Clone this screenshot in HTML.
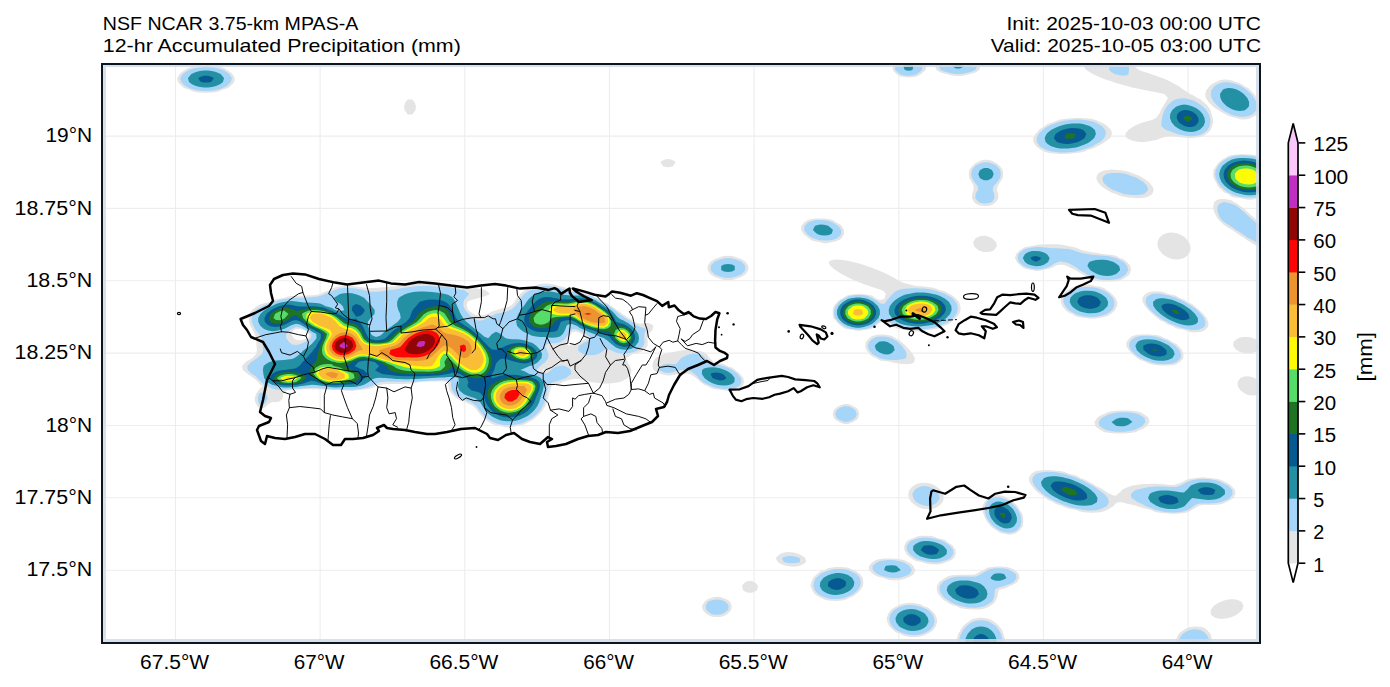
<!DOCTYPE html>
<html><head><meta charset="utf-8"><title>NSF NCAR 3.75-km MPAS-A 12-hr Accumulated Precipitation</title>
<style>html,body{margin:0;padding:0;background:#fff;overflow:hidden}svg{display:block}text{font-family:"Liberation Sans",sans-serif;font-size:19.0px;fill:#000}.tk{font-size:19.4px}</style>
</head><body>
<svg width="1390" height="687" viewBox="0 0 1390 687">
<rect width="1390" height="687" fill="#fff"/>
<defs><clipPath id="ax"><rect x="102.0" y="64.0" width="1158.0" height="579.0"/></clipPath></defs>
<g clip-path="url(#ax)">
<g stroke="#ededed" stroke-width="1.1" fill="none"><line x1="175.5" y1="64.0" x2="175.5" y2="643.0"/><line x1="320.1" y1="64.0" x2="320.1" y2="643.0"/><line x1="464.8" y1="64.0" x2="464.8" y2="643.0"/><line x1="609.5" y1="64.0" x2="609.5" y2="643.0"/><line x1="754.1" y1="64.0" x2="754.1" y2="643.0"/><line x1="898.8" y1="64.0" x2="898.8" y2="643.0"/><line x1="1043.4" y1="64.0" x2="1043.4" y2="643.0"/><line x1="1188.1" y1="64.0" x2="1188.1" y2="643.0"/><line x1="102.0" y1="136.1" x2="1260.0" y2="136.1"/><line x1="102.0" y1="208.4" x2="1260.0" y2="208.4"/><line x1="102.0" y1="280.8" x2="1260.0" y2="280.8"/><line x1="102.0" y1="353.1" x2="1260.0" y2="353.1"/><line x1="102.0" y1="425.5" x2="1260.0" y2="425.5"/><line x1="102.0" y1="497.8" x2="1260.0" y2="497.8"/><line x1="102.0" y1="570.2" x2="1260.0" y2="570.2"/></g>
<g stroke="none">
<path fill="#e4e4e4" d="M905.3,58.0 908.0,57.4 912.0,57.9 912.1,58.0 916.0,58.7 920.0,60.0 922.7,62.0 924.0,63.7 926.4,66.0 925.6,70.0 924.0,71.4 921.0,74.0 920.0,74.7 916.0,76.7 912.0,77.3 908.0,77.4 904.0,77.1 900.0,76.4 896.4,74.0 896.0,73.6 892.8,70.0 892.5,66.0 894.9,62.0 896.0,61.1 900.0,59.0 904.0,58.1ZM940.2,62.0 944.0,59.9 948.0,59.3 952.0,58.9 956.0,58.7 960.0,58.7 964.0,58.9 968.0,59.2 972.0,59.9 975.8,62.0 976.0,62.1 980.0,65.5 980.5,66.0 980.0,67.2 979.2,70.0 976.0,72.3 972.0,73.4 969.3,74.0 968.0,74.6 964.0,75.6 960.0,76.1 956.0,76.1 952.0,75.6 948.0,74.6 946.7,74.0 944.0,73.4 940.0,72.3 936.5,70.0 936.0,68.5 934.5,66.0 936.0,64.9 940.0,62.1ZM1103.9,62.0 1104.0,62.0 1108.0,60.5 1112.0,59.2 1116.0,58.4 1120.0,58.2 1124.0,58.6 1128.0,59.8 1131.1,62.0 1132.0,63.2 1134.7,66.0 1136.0,67.8 1139.3,70.0 1140.0,70.4 1144.0,71.8 1148.0,73.0 1150.9,74.0 1152.0,74.4 1156.0,75.7 1160.0,77.2 1162.2,78.0 1164.0,78.8 1168.0,80.5 1171.4,82.0 1172.0,82.4 1176.0,84.7 1178.5,86.0 1180.0,87.3 1183.9,90.0 1184.0,90.1 1188.0,92.6 1189.9,94.0 1192.0,94.7 1196.0,97.0 1197.3,98.0 1200.0,99.1 1203.5,102.0 1204.0,102.3 1207.6,106.0 1208.0,106.6 1210.4,110.0 1211.6,114.0 1212.0,116.1 1212.7,118.0 1213.2,122.0 1212.1,126.0 1212.0,126.1 1210.6,130.0 1208.0,132.7 1206.2,134.0 1204.0,135.6 1200.0,137.0 1196.0,137.6 1192.0,137.9 1188.0,137.9 1184.0,137.6 1180.0,137.2 1176.0,136.8 1172.0,136.3 1168.0,136.3 1164.0,137.2 1161.5,138.0 1160.0,138.6 1156.0,139.9 1152.0,140.8 1148.0,141.5 1144.0,141.9 1140.0,142.0 1136.0,141.6 1132.0,140.6 1128.0,138.8 1126.7,138.0 1125.2,134.0 1128.0,130.4 1128.3,130.0 1132.0,127.5 1134.3,126.0 1136.0,125.2 1140.0,123.5 1144.0,122.1 1144.5,122.0 1148.0,121.0 1152.0,119.9 1156.0,118.1 1156.1,118.0 1159.0,114.0 1160.0,112.7 1160.9,110.0 1163.3,106.0 1164.0,104.8 1165.7,102.0 1168.0,98.0 1164.3,94.0 1164.0,93.9 1160.0,92.9 1156.0,92.2 1152.0,91.5 1148.0,90.8 1144.3,90.0 1144.0,89.9 1140.0,89.1 1136.0,88.3 1132.0,87.4 1128.0,86.3 1126.9,86.0 1124.0,85.2 1120.0,84.1 1116.0,83.0 1113.1,82.0 1112.0,81.6 1108.0,80.3 1104.0,78.9 1101.8,78.0 1100.0,77.2 1096.0,75.5 1092.7,74.0 1092.0,73.5 1088.0,71.0 1086.1,70.0 1084.0,66.6 1083.5,66.0 1084.0,65.6 1088.0,63.9 1092.0,63.3 1096.0,63.1 1100.0,62.8ZM202.8,66.0 204.0,65.8 208.0,65.8 209.2,66.0 212.0,66.1 216.0,66.5 220.0,67.1 224.0,68.1 226.9,70.0 228.0,70.6 232.0,73.6 232.4,74.0 234.8,78.0 234.2,82.0 232.0,84.4 230.4,86.0 228.0,87.9 224.0,89.3 221.6,90.0 220.0,90.9 216.0,92.2 212.0,92.6 208.0,92.8 204.0,92.8 200.0,92.6 196.0,92.2 192.0,90.9 190.4,90.0 188.0,89.3 184.0,87.9 181.6,86.0 180.0,84.4 177.8,82.0 177.2,78.0 179.6,74.0 180.0,73.6 184.0,70.6 185.1,70.0 188.0,68.1 192.0,67.1 196.0,66.5 200.0,66.1ZM1215.8,82.0 1216.0,81.9 1220.0,80.2 1224.0,79.6 1228.0,79.7 1232.0,80.4 1235.6,82.0 1236.0,82.1 1240.0,83.2 1244.0,85.8 1244.3,86.0 1248.0,88.0 1250.2,90.0 1252.0,91.7 1254.2,94.0 1256.0,96.9 1256.9,98.0 1258.9,102.0 1259.5,106.0 1259.3,110.0 1257.3,114.0 1256.0,115.3 1252.0,117.6 1250.7,118.0 1248.0,119.1 1244.0,119.5 1240.0,119.2 1236.3,118.0 1236.0,117.9 1232.0,117.1 1228.0,115.8 1225.2,114.0 1224.0,113.4 1220.0,111.3 1218.0,110.0 1216.0,108.7 1212.4,106.0 1212.0,105.5 1208.4,102.0 1208.0,101.1 1205.8,98.0 1205.2,94.0 1206.4,90.0 1208.0,88.3 1209.5,86.0 1212.0,84.0ZM405.5,102.0 408.0,99.5 412.0,99.5 414.5,102.0 415.9,106.0 415.5,110.0 412.7,114.0 412.0,114.6 408.0,114.6 407.3,114.0 404.5,110.0 404.1,106.0ZM1054.0,122.0 1056.0,120.9 1060.0,119.6 1064.0,119.0 1068.0,118.6 1072.0,118.3 1076.0,118.1 1080.0,118.1 1084.0,118.3 1088.0,118.6 1092.0,119.1 1096.0,120.0 1099.9,122.0 1100.0,122.1 1104.0,123.8 1107.1,126.0 1108.0,127.1 1111.1,130.0 1112.0,134.0 1110.2,138.0 1108.0,139.5 1104.8,142.0 1104.0,142.5 1100.0,145.0 1097.7,146.0 1096.0,147.0 1092.0,148.8 1088.0,149.8 1087.3,150.0 1084.0,151.7 1080.0,152.6 1076.0,153.1 1072.0,153.5 1068.0,153.8 1064.0,153.9 1060.0,153.9 1056.0,153.7 1052.0,153.3 1048.0,152.8 1044.0,151.6 1041.4,150.0 1040.0,149.3 1036.0,146.0 1036.0,146.0 1033.4,142.0 1033.3,138.0 1035.4,134.0 1036.0,133.4 1039.0,130.0 1040.0,129.1 1044.0,126.5 1044.8,126.0 1048.0,123.8 1052.0,122.6ZM1225.2,158.0 1228.0,156.0 1232.0,155.1 1236.0,154.6 1240.0,154.3 1244.0,154.2 1248.0,154.4 1252.0,154.7 1256.0,155.2 1260.0,156.3 1262.3,158.0 1264.0,158.7 1268.0,160.3 1270.0,162.0 1272.0,163.4 1274.7,166.0 1276.0,167.6 1278.2,170.0 1279.5,174.0 1280.0,177.5 1280.2,178.0 1280.0,179.6 1279.9,182.0 1278.9,186.0 1276.0,189.5 1275.6,190.0 1272.0,193.2 1270.7,194.0 1268.0,196.2 1264.0,197.2 1260.0,197.8 1258.7,198.0 1256.0,199.1 1252.0,199.7 1248.0,199.7 1244.0,199.1 1240.6,198.0 1240.0,197.9 1236.0,197.5 1232.0,196.9 1228.2,194.0 1228.0,193.9 1224.0,192.2 1221.9,190.0 1220.0,188.4 1217.8,186.0 1216.0,182.1 1215.9,182.0 1213.6,178.0 1213.2,174.0 1213.6,170.0 1216.0,166.3 1216.1,166.0 1219.2,162.0 1220.0,161.3 1224.0,158.6ZM660.3,162.0 664.0,159.7 668.0,159.1 672.0,159.7 675.7,162.0 673.2,166.0 672.0,166.6 668.0,167.2 664.0,166.6 662.8,166.0ZM978.0,162.0 980.0,160.8 984.0,159.8 988.0,159.8 992.0,160.8 994.0,162.0 996.0,162.8 999.7,166.0 1000.0,166.3 1002.7,170.0 1003.2,174.0 1002.8,178.0 1000.3,182.0 1000.0,182.4 997.7,186.0 996.9,190.0 998.2,194.0 998.4,198.0 996.0,201.9 995.9,202.0 992.0,204.9 988.0,205.9 985.7,206.0 984.0,206.2 983.4,206.0 980.0,205.5 976.0,203.8 973.9,202.0 972.0,198.0 972.0,198.0 972.0,197.8 972.2,194.0 973.6,190.0 973.6,186.0 972.0,182.8 971.5,182.0 969.2,178.0 968.8,174.0 969.3,170.0 972.0,166.3 972.3,166.0 976.0,162.8ZM1107.9,170.0 1108.0,170.0 1112.0,169.6 1116.0,169.9 1116.8,170.0 1120.0,170.3 1124.0,170.8 1128.0,171.5 1132.0,172.9 1134.2,174.0 1136.0,174.6 1140.0,176.2 1142.9,178.0 1144.0,178.6 1148.0,181.5 1148.7,182.0 1152.0,185.8 1152.2,186.0 1153.8,190.0 1152.2,194.0 1152.0,194.2 1148.0,196.7 1144.0,197.7 1141.0,198.0 1140.0,198.1 1136.0,198.2 1134.7,198.0 1132.0,197.8 1128.0,197.4 1124.0,196.8 1120.0,195.8 1116.0,194.0 1116.0,194.0 1112.0,192.7 1108.0,190.6 1107.1,190.0 1104.0,188.2 1101.2,186.0 1100.0,184.6 1097.6,182.0 1096.3,178.0 1097.7,174.0 1100.0,172.3 1104.0,170.6ZM1214.4,202.0 1216.0,200.5 1220.0,199.1 1224.0,199.0 1228.0,199.4 1232.0,200.6 1233.7,202.0 1236.0,202.9 1240.0,205.8 1240.2,206.0 1244.0,208.8 1245.3,210.0 1248.0,212.4 1249.8,214.0 1252.0,215.9 1254.3,218.0 1256.0,219.4 1258.7,222.0 1260.0,223.2 1262.9,226.0 1264.0,227.3 1266.6,230.0 1268.0,231.9 1269.8,234.0 1272.0,237.9 1272.1,238.0 1274.1,242.0 1274.3,246.0 1272.0,248.4 1268.0,249.0 1264.0,248.4 1260.0,247.0 1258.3,246.0 1256.0,245.2 1252.0,243.2 1250.4,242.0 1248.0,240.8 1244.2,238.0 1244.0,237.8 1240.0,235.5 1238.2,234.0 1236.0,232.7 1232.5,230.0 1232.0,229.7 1228.0,227.7 1225.8,226.0 1224.0,224.9 1220.7,222.0 1220.0,221.3 1217.1,218.0 1216.0,215.5 1215.0,214.0 1213.6,210.0 1213.2,206.0ZM804.8,222.0 808.0,219.8 812.0,218.9 816.0,218.5 820.0,218.4 824.0,218.6 828.0,219.0 832.0,219.8 835.5,222.0 836.0,222.3 840.0,224.5 841.7,226.0 844.0,230.0 844.0,231.2 844.2,234.0 844.0,234.3 841.7,238.0 840.0,239.5 836.0,241.2 832.2,242.0 832.0,242.1 828.0,243.1 824.0,243.2 820.0,242.3 819.3,242.0 816.0,241.5 812.0,240.6 808.4,238.0 808.0,237.7 804.0,234.5 803.5,234.0 801.1,230.0 801.3,226.0 804.0,222.8ZM1163.9,234.0 1164.0,234.0 1168.0,232.7 1172.0,232.4 1176.0,233.0 1178.8,234.0 1180.0,234.4 1184.0,236.8 1185.5,238.0 1188.0,240.9 1188.8,242.0 1190.4,246.0 1190.5,250.0 1188.8,254.0 1188.0,255.0 1184.1,258.0 1184.0,258.0 1180.0,259.3 1176.0,259.6 1172.0,259.0 1169.2,258.0 1168.0,257.6 1164.0,255.2 1162.5,254.0 1160.0,251.1 1159.2,250.0 1157.6,246.0 1157.5,242.0 1159.2,238.0 1160.0,237.0ZM975.8,238.0 976.0,237.9 980.0,236.2 984.0,235.8 988.0,236.4 991.7,238.0 992.0,238.2 996.0,241.9 996.1,242.0 996.9,246.0 996.0,247.6 994.1,250.0 992.0,251.2 988.0,252.1 984.0,252.0 980.0,250.9 978.4,250.0 976.0,248.2 974.0,246.0 973.2,242.0ZM1032.3,246.0 1036.0,245.0 1040.0,244.6 1044.0,244.4 1048.0,244.3 1052.0,244.2 1056.0,244.2 1060.0,244.4 1064.0,245.0 1067.9,246.0 1068.0,246.0 1072.0,246.8 1076.0,247.8 1080.0,249.3 1081.4,250.0 1084.0,250.7 1088.0,251.4 1092.0,252.2 1096.0,252.8 1100.0,253.5 1102.2,254.0 1104.0,254.2 1108.0,254.6 1112.0,255.1 1116.0,255.8 1119.8,258.0 1120.0,258.1 1124.0,259.6 1127.0,262.0 1128.0,263.2 1130.4,266.0 1131.1,270.0 1129.7,274.0 1128.0,275.7 1124.5,278.0 1124.0,278.4 1120.0,280.5 1116.0,281.1 1112.0,281.5 1108.0,281.6 1104.0,281.6 1100.0,281.3 1096.0,280.9 1092.0,279.6 1089.7,278.0 1088.0,277.3 1084.0,275.6 1081.8,274.0 1080.0,273.0 1076.0,270.4 1075.4,270.0 1072.0,268.5 1068.0,266.4 1067.0,266.0 1064.0,265.1 1060.0,264.7 1056.0,265.4 1054.9,266.0 1052.0,267.7 1048.0,269.1 1044.0,269.8 1042.6,270.0 1040.0,270.8 1036.0,271.0 1032.4,270.0 1032.0,270.0 1028.0,269.3 1024.0,268.3 1021.0,266.0 1020.0,265.2 1016.7,262.0 1016.0,259.8 1014.9,258.0 1016.0,254.6 1016.1,254.0 1020.0,250.1 1020.2,250.0 1024.0,247.4 1028.0,246.6 1032.0,246.0ZM718.0,258.0 720.0,257.0 724.0,256.0 728.0,255.7 732.0,256.0 736.0,257.0 738.1,258.0 740.0,258.6 744.0,260.4 745.9,262.0 748.0,265.4 748.4,266.0 748.4,270.0 748.0,270.5 745.9,274.0 744.0,275.6 740.0,277.4 738.0,278.0 736.0,279.0 732.0,280.0 728.0,280.3 724.0,280.0 720.0,279.0 718.0,278.0 716.0,277.4 712.0,275.6 710.1,274.0 708.0,270.5 707.6,270.0 707.6,266.0 708.0,265.5 710.1,262.0 712.0,260.4 716.0,258.6ZM828.5,262.0 832.0,260.0 836.0,259.6 840.0,259.7 844.0,260.2 848.0,260.8 852.0,261.7 853.0,262.0 856.0,262.8 860.0,263.8 864.0,265.1 866.6,266.0 868.0,266.5 872.0,267.8 876.0,269.4 877.5,270.0 880.0,271.0 884.0,272.8 886.6,274.0 888.0,274.7 892.0,276.7 894.5,278.0 896.0,278.9 900.0,281.2 901.6,282.0 904.0,283.0 908.0,284.1 912.0,285.0 916.0,285.9 916.5,286.0 920.0,286.3 924.0,286.6 928.0,287.0 932.0,287.4 936.0,288.4 939.3,290.0 940.0,290.2 944.0,291.1 948.0,292.9 949.6,294.0 952.0,295.2 955.4,298.0 956.0,298.7 959.0,302.0 960.0,305.2 960.4,306.0 960.7,310.0 960.0,311.4 959.3,314.0 956.0,318.0 956.0,318.0 952.0,321.4 951.2,322.0 948.0,324.4 944.0,325.7 943.2,326.0 940.0,328.0 936.0,328.9 932.0,329.5 928.0,329.9 927.3,330.0 924.0,330.9 920.0,331.4 916.0,331.5 912.0,331.2 908.0,330.3 907.0,330.0 904.0,329.7 900.0,329.1 896.0,328.2 892.7,326.0 892.0,325.7 888.0,323.8 885.4,322.0 884.0,321.2 881.7,322.0 880.0,322.8 876.0,325.4 875.1,326.0 872.0,328.5 868.0,329.4 864.0,329.9 862.8,330.0 860.0,330.9 856.0,330.7 854.1,330.0 852.0,329.8 848.0,329.3 844.0,328.3 841.3,326.0 840.0,325.2 836.7,322.0 836.0,321.1 833.4,318.0 832.7,314.0 832.8,310.0 833.8,306.0 836.0,303.5 837.3,302.0 840.0,299.4 843.1,298.0 844.0,297.2 848.0,295.1 852.0,294.5 856.0,294.2 860.0,294.1 864.0,294.3 868.0,294.7 872.0,295.5 875.1,298.0 876.0,298.5 880.0,300.1 884.0,299.0 884.7,298.0 885.8,294.0 884.0,291.6 881.3,290.0 880.0,289.5 876.0,288.3 872.0,287.0 869.3,286.0 868.0,285.6 864.0,284.2 860.0,282.6 858.5,282.0 856.0,281.0 852.0,279.2 849.4,278.0 848.0,277.3 844.0,275.3 841.6,274.0 840.0,273.0 836.0,270.5 835.2,270.0 832.0,267.2 830.4,266.0ZM341.9,286.0 344.0,285.5 348.0,285.4 352.0,285.9 352.5,286.0 356.0,286.4 360.0,286.9 364.0,287.4 368.0,288.0 372.0,288.0 376.0,287.8 380.0,287.4 384.0,287.2 388.0,286.9 392.0,286.6 396.0,286.3 398.6,286.0 400.0,285.8 404.0,285.1 408.0,284.6 412.0,284.2 416.0,284.0 420.0,283.8 424.0,283.8 428.0,283.8 432.0,283.9 436.0,283.9 440.0,284.0 444.0,284.1 448.0,284.3 452.0,284.7 456.0,285.3 460.0,286.0 460.1,286.0 464.0,286.5 468.0,287.0 472.0,287.6 476.0,288.2 480.0,288.9 484.0,289.7 485.2,290.0 488.0,292.2 490.2,294.0 488.0,294.9 484.0,296.4 480.0,297.6 478.9,298.0 476.0,298.7 472.0,299.7 468.0,301.4 467.4,302.0 466.6,306.0 468.0,309.5 468.4,310.0 472.0,313.1 473.6,314.0 476.0,315.0 480.0,315.7 484.0,315.1 487.3,314.0 488.0,313.7 492.0,311.6 496.0,310.3 497.2,310.0 500.0,308.9 504.0,308.0 508.0,307.0 510.3,306.0 512.0,304.7 514.4,302.0 516.0,299.6 516.7,298.0 520.0,294.0 520.0,294.0 524.0,290.8 525.5,290.0 528.0,288.4 532.0,286.8 534.8,286.0 536.0,285.4 540.0,284.1 544.0,283.6 548.0,283.6 552.0,284.0 556.0,285.0 558.5,286.0 560.0,286.3 564.0,287.2 568.0,288.2 571.5,290.0 572.0,290.2 576.0,290.9 580.0,291.4 584.0,292.5 586.2,294.0 588.0,294.4 592.0,295.2 596.0,297.8 596.2,298.0 600.0,299.1 603.8,302.0 604.0,302.1 608.0,303.4 611.2,306.0 612.0,306.5 616.0,309.3 616.8,310.0 620.0,312.1 622.3,314.0 624.0,315.1 628.0,318.0 628.1,318.0 632.0,319.7 635.0,322.0 636.0,322.7 640.0,323.7 644.0,323.3 648.0,323.0 652.0,324.5 653.5,326.0 652.4,330.0 652.0,330.4 648.0,333.9 647.9,334.0 647.3,338.0 647.7,342.0 647.5,346.0 644.0,350.0 644.0,350.0 640.0,352.2 636.0,353.3 632.7,354.0 632.0,354.5 628.0,357.2 625.8,358.0 627.5,362.0 628.0,362.7 629.9,366.0 631.4,370.0 630.9,374.0 628.1,378.0 628.0,378.1 624.0,380.3 620.2,382.0 620.0,382.1 616.0,382.8 612.0,383.3 608.0,383.5 604.0,383.5 600.0,383.2 596.0,382.8 592.0,382.3 590.7,382.0 588.0,381.3 584.0,380.2 580.0,379.3 576.0,378.9 572.0,379.3 568.0,380.4 564.0,381.5 562.8,382.0 560.0,383.4 556.0,384.6 552.0,385.8 551.8,386.0 550.2,390.0 549.1,394.0 548.0,398.0 548.0,398.1 547.2,402.0 545.7,406.0 544.0,408.3 543.1,410.0 540.0,413.4 539.5,414.0 536.0,417.3 535.1,418.0 532.0,420.6 528.6,422.0 528.0,422.4 524.0,424.6 520.0,425.5 516.8,426.0 516.0,426.3 512.0,427.3 508.0,427.5 504.0,427.1 500.4,426.0 500.0,425.9 496.0,425.2 492.0,424.0 489.1,422.0 488.0,421.4 484.0,418.4 483.6,418.0 480.0,414.2 479.8,414.0 476.7,410.0 476.0,409.1 473.1,406.0 472.0,405.2 468.0,403.5 465.4,402.0 464.0,401.6 460.0,400.5 456.4,398.0 456.0,397.7 452.0,394.3 451.7,394.0 449.0,390.0 448.4,386.0 448.0,383.3 447.6,382.0 444.0,381.4 440.0,381.3 436.0,381.4 432.0,381.5 428.0,381.6 424.0,381.8 420.0,382.0 419.3,382.0 416.0,382.8 412.0,383.4 408.0,383.8 404.0,384.0 400.0,384.1 396.0,384.1 392.0,384.0 388.0,384.0 384.0,384.3 380.0,385.0 376.2,386.0 376.0,386.1 372.0,388.2 368.0,389.0 364.0,389.5 360.0,389.9 358.8,390.0 356.0,390.6 352.0,390.9 348.0,390.8 344.0,390.5 340.0,390.1 339.4,390.0 336.0,389.9 332.0,389.9 328.0,389.8 324.0,389.6 320.0,389.4 316.0,389.2 312.0,389.2 308.0,389.2 304.0,389.3 300.0,389.5 296.0,389.6 292.0,389.8 288.0,390.0 287.7,390.0 284.0,392.9 283.0,394.0 282.8,398.0 280.0,401.3 277.3,402.0 276.0,402.3 272.9,402.0 272.0,401.9 271.9,402.0 268.0,404.3 266.5,406.0 264.0,408.1 260.0,408.6 257.2,406.0 256.0,403.6 255.1,402.0 254.7,398.0 256.0,394.1 256.0,394.0 258.7,390.0 260.0,388.3 262.5,386.0 260.0,384.4 258.1,382.0 256.0,380.0 253.6,378.0 252.0,376.9 248.0,374.2 247.7,374.0 244.0,371.0 242.8,370.0 242.0,366.0 244.0,363.9 245.8,362.0 248.0,360.5 252.0,358.2 252.3,358.0 256.0,354.3 256.3,354.0 256.9,350.0 256.5,346.0 256.4,342.0 256.2,338.0 256.0,337.5 254.8,334.0 252.7,330.0 252.0,328.6 250.3,326.0 249.0,322.0 248.7,318.0 249.3,314.0 252.0,310.1 252.1,310.0 256.0,306.7 257.5,306.0 260.0,304.6 264.0,303.3 268.0,302.5 269.8,302.0 272.0,300.8 276.0,299.3 280.0,298.6 283.9,298.0 284.0,297.9 288.0,296.4 292.0,295.9 296.0,295.8 300.0,295.8 304.0,295.8 308.0,295.6 312.0,295.3 316.0,294.9 320.0,294.1 320.2,294.0 324.0,291.9 328.0,290.7 329.8,290.0 332.0,288.5 336.0,287.0 340.0,286.2ZM544.0,368.3 542.8,370.0 544.0,370.2 544.5,370.0ZM548.0,365.9 547.4,366.0 548.0,366.1 548.1,366.0ZM556.0,349.9 555.8,350.0 556.0,350.2 556.2,350.0ZM572.0,332.5 571.0,334.0 568.4,338.0 568.0,339.0 566.5,342.0 568.0,345.6 572.0,345.0 576.0,343.5 579.3,342.0 580.0,341.7 584.0,339.5 587.2,338.0 584.0,335.4 582.7,334.0 580.0,332.9 576.0,331.5ZM296.0,328.9 293.6,330.0 292.0,333.0 291.4,334.0 292.0,335.5 293.6,338.0 296.0,339.8 300.0,340.6 304.0,339.6 308.0,338.1 308.2,338.0 309.2,334.0 308.0,333.3 304.0,330.0 304.0,330.0 300.0,328.9ZM1080.0,286.0 1084.0,285.0 1088.0,284.8 1092.0,285.1 1094.5,286.0 1096.0,286.2 1100.0,286.8 1104.0,288.0 1106.6,290.0 1108.0,290.8 1112.0,294.0 1112.0,294.0 1115.5,298.0 1116.0,299.3 1117.4,302.0 1117.2,306.0 1116.0,307.9 1115.1,310.0 1112.0,312.9 1110.4,314.0 1108.0,315.7 1104.0,317.0 1100.0,317.7 1097.3,318.0 1096.0,318.4 1092.0,318.8 1088.0,318.5 1086.2,318.0 1084.0,317.8 1080.0,317.2 1076.0,316.4 1072.1,314.0 1072.0,314.0 1068.0,312.2 1065.5,310.0 1064.0,308.2 1062.1,306.0 1060.8,302.0 1060.9,298.0 1062.9,294.0 1064.0,292.9 1068.0,290.0 1068.0,290.0 1072.0,287.4 1076.0,286.6 1080.0,286.0ZM1145.5,294.0 1148.0,292.5 1152.0,291.5 1156.0,291.4 1160.0,291.6 1164.0,292.2 1167.9,294.0 1168.0,294.0 1172.0,294.8 1176.0,295.7 1179.3,298.0 1180.0,298.3 1184.0,299.5 1187.4,302.0 1188.0,302.3 1192.0,304.1 1194.3,306.0 1196.0,307.2 1199.2,310.0 1200.0,310.8 1203.3,314.0 1204.0,314.9 1206.7,318.0 1208.0,321.8 1208.2,322.0 1208.5,326.0 1208.0,326.8 1205.1,330.0 1204.0,330.7 1200.0,332.0 1196.0,332.3 1192.0,332.2 1188.0,331.4 1184.9,330.0 1184.0,329.8 1180.0,329.1 1176.0,328.2 1172.7,326.0 1172.0,325.7 1168.0,324.6 1164.4,322.0 1164.0,321.8 1160.0,320.2 1157.4,318.0 1156.0,317.0 1152.5,314.0 1152.0,313.6 1148.2,310.0 1148.0,309.7 1144.8,306.0 1144.0,304.0 1142.6,302.0 1142.3,298.0 1144.0,295.6ZM869.5,338.0 872.0,336.1 876.0,335.0 880.0,334.6 884.0,334.6 888.0,335.0 892.0,335.9 895.2,338.0 896.0,338.4 900.0,340.7 901.6,342.0 904.0,344.2 906.0,346.0 908.0,348.5 909.5,350.0 912.0,353.3 912.7,354.0 914.8,358.0 914.3,362.0 912.0,363.4 908.0,364.2 904.0,364.1 900.0,363.7 896.0,363.1 892.0,362.3 891.1,362.0 888.0,361.6 884.0,361.1 880.0,360.4 876.0,358.1 875.9,358.0 872.0,356.3 869.4,354.0 868.0,352.1 866.2,350.0 865.2,346.0 865.9,342.0 868.0,339.5ZM1129.8,338.0 1132.0,336.3 1136.0,335.1 1140.0,334.5 1144.0,334.4 1148.0,334.4 1152.0,334.7 1156.0,335.1 1160.0,335.8 1163.7,338.0 1164.0,338.1 1168.0,339.2 1172.0,341.7 1172.3,342.0 1176.0,343.8 1178.4,346.0 1180.0,347.8 1182.0,350.0 1183.4,354.0 1183.3,358.0 1180.0,361.9 1179.9,362.0 1176.0,364.5 1172.0,365.3 1168.0,365.6 1164.0,365.6 1160.0,365.5 1156.0,365.1 1152.0,364.6 1148.0,363.3 1146.0,362.0 1144.0,361.3 1140.0,360.1 1137.3,358.0 1136.0,357.1 1132.2,354.0 1132.0,353.8 1128.5,350.0 1128.0,348.9 1126.2,346.0 1126.5,342.0 1128.0,340.1ZM1238.9,338.0 1240.0,337.6 1244.0,336.9 1248.0,337.0 1252.0,337.8 1252.6,338.0 1256.0,339.5 1259.4,342.0 1260.0,343.5 1261.0,346.0 1260.0,348.2 1258.9,350.0 1256.0,351.8 1252.0,353.1 1248.0,353.4 1244.0,353.1 1240.0,351.9 1236.6,350.0 1236.0,349.4 1233.2,346.0 1233.5,342.0 1236.0,339.6ZM685.8,350.0 688.0,349.9 689.9,350.0 692.0,350.1 696.0,350.4 700.0,350.9 704.0,352.2 706.6,354.0 708.0,355.8 709.5,358.0 712.0,360.6 713.7,362.0 716.0,362.6 720.0,363.2 724.0,364.1 727.0,366.0 728.0,366.4 732.0,367.6 735.2,370.0 736.0,370.6 740.0,373.9 740.1,374.0 743.3,378.0 744.0,382.0 742.6,386.0 740.0,388.2 736.0,389.5 733.1,390.0 732.0,390.4 728.0,390.9 724.0,390.5 722.4,390.0 720.0,389.7 716.0,389.2 712.0,388.5 708.0,386.3 707.7,386.0 704.0,384.7 700.4,382.0 700.0,381.6 696.0,378.0 696.0,378.0 692.0,375.3 688.8,374.0 688.0,373.7 684.0,373.5 680.0,373.8 679.1,374.0 676.0,374.6 672.0,375.3 668.0,375.5 664.0,375.0 661.2,374.0 660.0,373.6 656.0,371.7 653.5,370.0 652.3,366.0 653.1,362.0 655.7,358.0 656.0,357.8 660.0,355.7 663.7,354.0 664.0,353.9 668.0,352.9 672.0,352.2 676.0,351.4 680.0,350.7 684.0,350.1ZM1240.8,378.0 1244.0,376.6 1248.0,376.2 1252.0,377.0 1254.2,378.0 1256.0,378.9 1259.9,382.0 1260.0,382.1 1262.3,386.0 1262.4,390.0 1260.0,393.3 1259.0,394.0 1256.0,395.3 1252.0,395.6 1248.0,394.9 1246.0,394.0 1244.0,393.1 1240.1,390.0 1240.0,389.8 1237.7,386.0 1237.6,382.0 1240.0,378.6ZM839.1,406.0 840.0,405.4 844.0,403.9 848.0,403.9 852.0,405.4 852.9,406.0 856.0,407.7 858.2,410.0 859.2,414.0 858.2,418.0 856.0,420.3 852.9,422.0 852.0,422.6 848.0,424.1 844.0,424.1 840.0,422.6 839.1,422.0 836.0,420.3 833.8,418.0 832.8,414.0 833.8,410.0 836.0,407.7ZM1104.3,414.0 1108.0,412.1 1112.0,411.3 1116.0,410.8 1120.0,410.5 1124.0,410.4 1128.0,410.5 1132.0,410.7 1136.0,411.2 1140.0,412.0 1143.6,414.0 1144.0,414.2 1148.0,417.3 1148.7,418.0 1149.6,422.0 1148.0,424.2 1146.9,426.0 1144.0,428.2 1140.0,429.9 1139.7,430.0 1136.0,431.9 1132.0,432.7 1128.0,433.2 1124.0,433.5 1120.0,433.6 1116.0,433.5 1112.0,433.3 1108.0,432.8 1104.0,432.0 1100.4,430.0 1100.0,429.8 1096.0,426.7 1095.3,426.0 1094.4,422.0 1096.0,419.8 1097.1,418.0 1100.0,415.8 1104.0,414.1ZM1031.1,474.0 1032.0,473.3 1036.0,471.1 1040.0,470.4 1044.0,470.1 1048.0,470.1 1052.0,470.3 1056.0,470.7 1060.0,471.1 1064.0,471.7 1068.0,473.2 1069.4,474.0 1072.0,474.6 1076.0,475.5 1080.0,477.8 1080.2,478.0 1084.0,479.2 1088.0,481.3 1089.0,482.0 1092.0,483.2 1096.0,486.0 1096.0,486.0 1100.0,487.8 1103.1,490.0 1104.0,490.6 1108.0,492.9 1110.5,494.0 1112.0,495.1 1116.0,495.8 1117.6,494.0 1120.0,492.2 1122.0,490.0 1124.0,488.8 1128.0,486.9 1131.0,486.0 1132.0,485.7 1136.0,484.9 1140.0,484.5 1144.0,484.1 1148.0,483.9 1152.0,483.8 1156.0,483.8 1160.0,484.0 1164.0,484.3 1168.0,484.7 1172.0,485.0 1176.0,484.5 1180.0,483.1 1182.6,482.0 1184.0,481.1 1188.0,479.3 1192.0,478.6 1196.0,478.1 1197.5,478.0 1200.0,477.5 1204.0,477.3 1208.0,477.9 1208.5,478.0 1212.0,478.3 1216.0,478.8 1220.0,479.5 1224.0,481.3 1225.0,482.0 1228.0,483.2 1231.5,486.0 1232.0,486.6 1235.0,490.0 1235.4,494.0 1233.3,498.0 1232.0,499.1 1228.0,501.3 1226.3,502.0 1224.0,503.3 1220.0,504.4 1216.0,504.7 1212.0,504.9 1208.0,505.0 1204.0,505.1 1200.0,505.4 1198.2,506.0 1196.0,507.4 1192.0,509.7 1191.5,510.0 1188.0,512.3 1184.0,513.0 1180.0,513.5 1176.0,513.7 1172.0,513.7 1168.0,513.5 1164.0,513.2 1160.0,512.8 1156.0,512.2 1152.0,510.4 1151.1,510.0 1148.0,509.3 1144.0,508.3 1140.0,506.9 1137.1,506.0 1136.0,505.7 1132.0,504.8 1128.0,503.9 1124.0,502.8 1120.0,502.0 1120.0,502.0 1120.0,502.0 1116.0,503.1 1113.6,506.0 1112.0,506.9 1108.0,509.4 1106.7,510.0 1104.0,511.2 1100.0,512.2 1096.0,512.6 1092.0,512.7 1088.0,512.5 1084.0,512.3 1080.0,511.5 1076.3,510.0 1076.0,509.9 1072.0,509.3 1068.0,508.5 1064.0,506.9 1062.6,506.0 1060.0,505.2 1056.0,504.0 1053.1,502.0 1052.0,501.4 1048.0,499.9 1045.6,498.0 1044.0,497.0 1040.1,494.0 1040.0,493.9 1036.0,490.8 1035.1,490.0 1032.0,486.1 1031.9,486.0 1029.3,482.0 1028.9,478.0ZM913.2,486.0 916.0,484.3 920.0,483.1 924.0,482.8 928.0,483.1 932.0,484.1 935.5,486.0 936.0,486.2 940.0,489.3 940.7,490.0 943.2,494.0 943.7,498.0 942.7,502.0 940.0,505.0 938.8,506.0 936.0,507.7 932.0,508.9 928.0,509.2 924.0,508.9 920.0,507.9 916.5,506.0 916.0,505.8 912.0,502.7 911.3,502.0 908.8,498.0 908.3,494.0 909.3,490.0 912.0,487.0ZM988.2,498.0 992.0,495.5 996.0,495.1 1000.0,495.3 1004.0,496.2 1006.6,498.0 1008.0,498.6 1012.0,500.9 1013.1,502.0 1016.0,504.6 1017.4,506.0 1019.7,510.0 1020.0,510.5 1022.4,514.0 1023.1,518.0 1023.3,522.0 1022.8,526.0 1020.0,530.0 1020.0,530.0 1016.0,533.2 1012.8,534.0 1012.0,534.4 1008.0,534.7 1006.1,534.0 1004.0,533.7 1000.0,532.8 996.0,530.0 996.0,530.0 992.0,527.5 990.5,526.0 988.0,522.8 987.3,522.0 984.9,518.0 984.0,514.9 983.4,514.0 982.3,510.0 982.6,506.0 984.0,503.3 984.5,502.0 988.0,498.2ZM913.8,538.0 916.0,536.9 920.0,535.8 924.0,535.7 928.0,535.7 932.0,536.1 936.0,537.6 936.8,538.0 940.0,538.7 944.0,539.6 947.4,542.0 948.0,542.4 952.0,545.1 953.0,546.0 955.5,550.0 955.8,554.0 954.0,558.0 952.0,559.7 948.0,561.5 946.2,562.0 944.0,563.1 940.0,564.2 936.0,564.4 932.0,564.3 928.0,564.0 924.0,563.0 921.7,562.0 920.0,561.7 916.0,561.0 912.0,559.0 911.1,558.0 908.0,555.8 906.5,554.0 904.4,550.0 904.2,546.0 906.1,542.0 908.0,540.3 912.0,538.6ZM780.0,554.0 780.0,554.0 784.0,552.6 788.0,552.1 792.0,552.3 796.0,553.1 798.3,554.0 800.0,554.6 804.0,556.9 805.3,558.0 806.0,562.0 804.0,563.8 800.0,565.7 798.3,566.0 796.0,566.5 792.0,566.7 788.0,566.1 787.8,566.0 784.0,565.2 780.0,563.6 777.7,562.0 776.0,558.4 775.8,558.0 776.0,557.8ZM872.8,562.0 876.0,560.0 880.0,559.1 884.0,558.6 888.0,558.4 892.0,558.5 896.0,558.8 900.0,559.2 904.0,559.9 907.8,562.0 908.0,562.1 912.0,564.4 913.4,566.0 915.2,570.0 913.8,574.0 912.0,575.5 908.0,577.5 906.5,578.0 904.0,579.1 900.0,580.0 896.0,580.3 892.0,580.2 888.0,579.7 884.0,578.3 883.4,578.0 880.0,577.2 876.0,576.0 873.0,574.0 872.0,573.2 868.9,570.0 868.9,566.0 872.0,562.6ZM824.8,570.0 828.0,568.3 832.0,567.4 836.0,567.1 840.0,567.1 844.0,567.3 848.0,567.7 852.0,569.4 853.1,570.0 856.0,571.0 859.8,574.0 860.0,574.2 862.9,578.0 863.3,582.0 862.9,586.0 860.5,590.0 860.0,590.6 856.3,594.0 856.0,594.3 852.0,596.9 848.8,598.0 848.0,598.5 844.0,600.2 840.0,600.7 836.0,600.9 832.0,600.8 828.0,600.5 824.0,599.5 821.4,598.0 820.0,597.4 816.0,595.1 814.8,594.0 812.0,590.0 812.0,589.8 810.5,586.0 811.2,582.0 812.0,580.8 813.1,578.0 816.0,575.0 817.1,574.0 820.0,571.6 824.0,570.3ZM983.5,570.0 984.0,569.7 988.0,567.6 992.0,567.0 996.0,566.6 1000.0,566.6 1004.0,566.8 1008.0,567.3 1012.0,568.5 1014.4,570.0 1016.0,571.0 1019.0,574.0 1019.6,578.0 1017.3,582.0 1016.0,583.1 1012.0,585.2 1009.6,586.0 1008.0,586.9 1004.0,588.4 1000.0,589.4 998.9,590.0 997.9,594.0 997.2,598.0 996.0,599.8 995.0,602.0 992.0,604.8 989.7,606.0 988.0,607.2 984.0,608.8 980.0,609.4 976.0,609.6 972.0,609.5 968.0,609.2 964.0,608.8 960.0,608.1 956.1,606.0 956.0,606.0 952.0,604.9 948.0,602.7 947.1,602.0 944.0,600.3 941.5,598.0 940.0,596.1 938.2,594.0 936.8,590.0 936.9,586.0 939.2,582.0 940.0,581.3 944.0,578.5 945.0,578.0 948.0,576.2 952.0,575.3 956.0,574.9 960.0,574.8 964.0,574.7 968.0,574.8 972.0,574.8 976.0,574.2 976.3,574.0 980.0,571.6ZM745.9,582.0 748.0,581.1 752.0,581.1 754.1,582.0 756.0,583.3 758.0,586.0 757.0,590.0 756.0,590.9 752.0,592.8 748.0,592.8 744.0,591.0 743.0,590.0 742.0,586.0 744.0,583.3ZM711.2,598.0 712.0,597.6 716.0,596.7 720.0,597.0 722.9,598.0 724.0,598.3 728.0,600.0 730.2,602.0 731.7,606.0 731.2,610.0 728.0,613.5 727.4,614.0 724.0,616.1 720.0,616.9 716.0,617.0 712.0,616.7 708.0,615.1 706.5,614.0 704.0,611.6 702.7,610.0 702.0,606.0 704.0,602.5 704.3,602.0 708.0,599.0ZM1219.9,602.0 1220.0,602.0 1224.0,600.4 1228.0,599.6 1232.0,599.3 1236.0,599.6 1240.0,600.9 1241.7,602.0 1243.6,606.0 1242.1,610.0 1240.0,612.1 1237.7,614.0 1236.0,615.1 1232.0,616.9 1228.1,618.0 1228.0,618.0 1224.0,618.7 1220.0,618.8 1216.0,618.1 1215.6,618.0 1212.0,615.7 1210.7,614.0 1210.8,610.0 1212.0,608.3 1213.7,606.0 1216.0,604.3ZM897.3,606.0 900.0,604.4 904.0,603.4 908.0,603.1 912.0,603.1 916.0,603.4 920.0,604.1 923.4,606.0 924.0,606.2 928.0,607.6 931.0,610.0 932.0,611.0 934.9,614.0 936.0,616.8 936.8,618.0 937.4,622.0 936.0,625.5 935.9,626.0 933.2,630.0 932.0,631.1 928.0,633.5 926.7,634.0 924.0,635.6 920.0,636.6 916.0,636.9 912.0,636.9 908.0,636.6 904.0,635.9 900.6,634.0 900.0,633.8 896.0,632.4 893.1,630.0 892.0,629.0 889.1,626.0 888.0,623.2 887.2,622.0 886.6,618.0 888.0,614.5 888.1,614.0 890.8,610.0 892.0,608.9 896.0,606.5ZM978.4,618.0 980.0,617.6 984.0,618.0 984.0,618.0 988.0,618.7 992.0,620.2 994.3,622.0 996.0,623.1 998.9,626.0 1000.0,627.5 1002.0,630.0 1003.5,634.0 1004.0,636.2 1004.7,638.0 1005.4,642.0 1005.2,646.0 1004.0,649.8 1004.0,650.0 1002.9,654.0 1000.2,658.0 1000.0,658.2 996.7,662.0 996.0,662.7 992.0,665.4 990.4,666.0 988.0,667.4 984.0,668.4 980.0,668.6 976.0,668.0 972.0,666.3 971.6,666.0 968.0,664.5 965.2,662.0 964.0,660.9 961.4,658.0 960.0,655.1 959.2,654.0 957.4,650.0 956.9,646.0 956.8,642.0 957.1,638.0 958.1,634.0 960.0,630.9 960.4,630.0 963.2,626.0 964.0,625.2 968.0,622.0 968.0,622.0 972.0,619.2 976.0,618.3ZM1183.7,630.0 1184.0,629.8 1188.0,627.6 1192.0,626.8 1196.0,626.5 1200.0,626.7 1204.0,627.7 1206.9,630.0 1208.0,630.9 1210.5,634.0 1211.7,638.0 1211.8,642.0 1210.7,646.0 1208.0,649.0 1206.8,650.0 1204.0,652.1 1200.0,653.3 1196.0,653.8 1192.0,653.8 1188.0,653.3 1184.0,652.1 1181.2,650.0 1180.0,648.9 1177.4,646.0 1176.3,642.0 1176.6,638.0 1178.7,634.0 1180.0,632.6Z"/>
<path fill="#a5d5f8" d="M898.4,62.0 900.0,61.0 904.0,59.8 908.0,59.3 912.0,59.6 916.0,60.5 919.0,62.0 920.0,62.9 922.6,66.0 922.0,70.0 920.0,71.8 917.1,74.0 916.0,74.6 912.0,75.6 908.0,75.8 904.0,75.4 900.0,74.2 899.7,74.0 896.0,70.8 895.3,70.0 895.0,66.0 896.0,64.6ZM944.6,62.0 948.0,61.0 952.0,60.4 956.0,60.1 960.0,60.1 964.0,60.4 968.0,61.0 971.4,62.0 972.0,62.3 976.0,65.1 977.0,66.0 976.0,68.7 975.4,70.0 972.0,71.4 968.0,72.6 964.0,73.5 960.0,73.9 956.0,73.9 952.0,73.5 948.0,72.6 944.0,71.4 940.5,70.0 940.0,69.0 938.9,66.0 940.0,65.1 944.0,62.3ZM1113.9,62.0 1116.0,61.3 1120.0,61.0 1124.0,61.4 1125.3,62.0 1128.0,64.8 1128.9,66.0 1129.0,70.0 1128.4,74.0 1128.0,74.7 1124.0,75.7 1120.0,75.3 1116.0,74.5 1114.7,74.0 1112.0,72.5 1109.2,70.0 1109.4,66.0 1112.0,63.8ZM189.3,70.0 192.0,68.9 196.0,68.0 200.0,67.4 204.0,67.2 208.0,67.2 212.0,67.4 216.0,68.0 220.0,68.9 222.7,70.0 224.0,70.6 228.0,73.0 229.3,74.0 231.9,78.0 230.8,82.0 228.0,84.9 226.7,86.0 224.0,87.4 220.0,88.9 216.2,90.0 216.0,90.1 212.0,90.8 208.0,91.1 204.0,91.1 200.0,90.8 196.0,90.1 195.8,90.0 192.0,88.9 188.0,87.4 185.3,86.0 184.0,84.9 181.2,82.0 180.1,78.0 182.7,74.0 184.0,73.0 188.0,70.6ZM1214.6,86.0 1216.0,85.0 1220.0,83.3 1224.0,82.2 1228.0,82.2 1232.0,82.9 1236.0,84.1 1240.0,85.5 1240.7,86.0 1244.0,88.0 1246.9,90.0 1248.0,91.0 1251.2,94.0 1252.0,95.1 1254.0,98.0 1256.0,101.6 1256.2,102.0 1256.8,106.0 1256.3,110.0 1256.0,110.4 1253.0,114.0 1252.0,114.8 1248.0,116.2 1244.0,116.8 1240.0,116.7 1236.0,116.0 1232.0,114.9 1230.1,114.0 1228.0,113.0 1224.0,110.9 1222.7,110.0 1220.0,107.9 1217.6,106.0 1216.0,104.2 1213.9,102.0 1212.0,98.7 1211.5,98.0 1210.8,94.0 1211.4,90.0 1212.0,89.2ZM1171.2,102.0 1172.0,101.2 1176.0,99.3 1180.0,98.4 1184.0,98.3 1188.0,99.0 1192.0,100.1 1196.0,101.7 1196.4,102.0 1200.0,104.2 1202.2,106.0 1204.0,107.5 1206.2,110.0 1208.0,112.7 1208.8,114.0 1210.1,118.0 1210.5,122.0 1209.7,126.0 1208.0,129.3 1207.5,130.0 1204.0,132.8 1201.8,134.0 1200.0,134.9 1196.0,135.8 1192.0,136.2 1188.0,136.1 1184.0,135.6 1180.0,134.8 1177.2,134.0 1176.0,133.6 1172.0,132.0 1168.0,130.6 1166.0,130.0 1164.0,128.5 1161.3,126.0 1161.4,122.0 1162.1,118.0 1163.0,114.0 1164.0,111.5 1164.6,110.0 1167.1,106.0 1168.0,104.9ZM1059.2,122.0 1060.0,121.7 1064.0,120.8 1068.0,120.2 1072.0,119.8 1076.0,119.6 1080.0,119.6 1084.0,119.9 1088.0,120.4 1092.0,121.3 1094.1,122.0 1096.0,122.8 1100.0,124.9 1101.9,126.0 1104.0,128.4 1105.3,130.0 1105.9,134.0 1104.3,138.0 1104.0,138.3 1100.0,142.0 1100.0,142.0 1096.0,144.1 1092.8,146.0 1092.0,146.5 1088.0,147.9 1084.0,149.3 1081.5,150.0 1080.0,150.5 1076.0,151.4 1072.0,151.9 1068.0,152.3 1064.0,152.4 1060.0,152.4 1056.0,152.1 1052.0,151.5 1048.0,150.6 1046.7,150.0 1044.0,148.7 1040.0,146.4 1039.5,146.0 1036.9,142.0 1036.7,138.0 1038.6,134.0 1040.0,132.5 1042.5,130.0 1044.0,128.8 1048.0,126.3 1048.5,126.0 1052.0,124.5 1056.0,123.1ZM1228.2,158.0 1232.0,156.5 1236.0,155.7 1240.0,155.3 1244.0,155.2 1248.0,155.4 1252.0,155.8 1256.0,156.7 1258.9,158.0 1260.0,158.3 1264.0,159.9 1267.3,162.0 1268.0,162.4 1272.0,165.4 1272.6,166.0 1275.9,170.0 1276.0,170.2 1277.9,174.0 1278.6,178.0 1278.3,182.0 1276.9,186.0 1276.0,187.1 1273.6,190.0 1272.0,191.4 1268.1,194.0 1268.0,194.0 1264.0,195.8 1260.0,196.8 1256.0,197.4 1252.0,197.7 1248.0,197.7 1244.0,197.4 1240.0,196.9 1236.0,196.0 1232.0,194.5 1231.4,194.0 1228.0,192.4 1224.7,190.0 1224.0,189.5 1220.3,186.0 1220.0,185.6 1217.5,182.0 1216.0,178.5 1215.7,178.0 1215.1,174.0 1215.7,170.0 1216.0,169.6 1217.9,166.0 1220.0,163.6 1221.6,162.0 1224.0,160.2 1228.0,158.1ZM975.1,166.0 976.0,165.3 980.0,163.4 984.0,162.2 988.0,162.2 992.0,163.4 996.0,165.3 996.9,166.0 1000.0,169.8 1000.1,170.0 1000.8,174.0 1000.2,178.0 1000.0,178.3 997.3,182.0 996.0,183.8 993.6,186.0 992.7,190.0 994.2,194.0 994.5,198.0 992.0,202.0 992.0,202.0 988.0,203.2 984.0,203.5 980.0,202.7 978.7,202.0 976.0,199.1 975.3,198.0 975.6,194.0 976.0,193.1 978.1,190.0 977.8,186.0 976.0,184.2 974.5,182.0 972.0,178.3 971.8,178.0 971.2,174.0 971.9,170.0 972.0,169.8ZM1106.3,174.0 1108.0,173.5 1112.0,173.0 1116.0,172.9 1120.0,173.1 1124.0,173.6 1125.7,174.0 1128.0,174.7 1132.0,176.2 1136.0,177.5 1136.9,178.0 1140.0,180.1 1143.6,182.0 1144.0,182.4 1147.0,186.0 1148.0,189.3 1148.2,190.0 1148.0,190.3 1144.2,194.0 1144.0,194.1 1140.0,194.8 1136.0,195.1 1132.0,195.0 1128.0,194.6 1124.0,194.1 1123.9,194.0 1120.0,192.4 1116.0,191.1 1113.0,190.0 1112.0,189.4 1108.0,186.8 1106.8,186.0 1104.0,183.0 1103.1,182.0 1102.4,178.0 1104.0,175.8ZM1217.6,206.0 1220.0,203.4 1224.0,202.1 1228.0,202.7 1232.0,204.0 1236.0,205.6 1236.6,206.0 1240.0,208.6 1241.7,210.0 1244.0,212.1 1246.1,214.0 1248.0,215.8 1250.6,218.0 1252.0,219.3 1255.2,222.0 1256.0,222.8 1259.4,226.0 1260.0,226.7 1262.8,230.0 1264.0,231.6 1265.7,234.0 1268.0,237.5 1268.3,238.0 1268.7,242.0 1268.0,243.0 1264.0,244.0 1260.0,243.3 1256.0,242.2 1255.6,242.0 1252.0,239.8 1248.0,238.1 1247.9,238.0 1244.0,235.1 1242.4,234.0 1240.0,232.2 1236.0,230.0 1236.0,230.0 1232.0,227.1 1230.2,226.0 1228.0,224.6 1224.0,222.1 1223.9,222.0 1220.0,218.0 1220.0,218.0 1218.3,214.0 1217.2,210.0ZM809.0,222.0 812.0,220.9 816.0,220.1 820.0,219.9 824.0,220.2 828.0,220.8 831.7,222.0 832.0,222.1 836.0,224.4 838.3,226.0 840.0,228.2 841.3,230.0 841.2,234.0 840.0,235.6 837.4,238.0 836.0,238.8 832.0,240.0 828.0,240.6 824.0,240.6 820.0,240.2 816.0,239.3 812.7,238.0 812.0,237.7 808.0,235.0 806.9,234.0 804.1,230.0 804.6,226.0 808.0,222.6ZM1023.4,250.0 1024.0,249.6 1028.0,248.2 1032.0,247.4 1036.0,247.1 1040.0,247.1 1044.0,247.4 1048.0,247.8 1052.0,248.2 1056.0,248.3 1060.0,248.4 1064.0,248.7 1068.0,249.1 1072.0,249.8 1072.8,250.0 1076.0,251.3 1080.0,252.6 1084.0,253.4 1087.3,254.0 1088.0,254.1 1092.0,254.8 1096.0,255.1 1100.0,255.4 1104.0,255.7 1108.0,256.1 1112.0,256.9 1115.8,258.0 1116.0,258.1 1120.0,260.0 1123.7,262.0 1124.0,262.3 1127.2,266.0 1128.0,269.0 1128.3,270.0 1128.0,270.5 1126.1,274.0 1124.0,275.7 1120.3,278.0 1120.0,278.2 1116.0,279.2 1112.0,279.8 1108.0,280.0 1104.0,279.9 1100.0,279.4 1096.0,278.5 1094.9,278.0 1092.0,276.9 1088.0,275.2 1086.0,274.0 1084.0,272.6 1080.0,270.3 1079.6,270.0 1076.0,267.2 1073.6,266.0 1072.0,264.9 1068.0,263.1 1064.0,262.1 1063.0,262.0 1060.0,261.3 1058.6,262.0 1056.0,262.7 1052.0,265.1 1050.7,266.0 1048.0,267.3 1044.0,268.5 1040.0,269.2 1036.0,269.3 1032.0,268.8 1028.0,267.9 1024.0,266.3 1023.6,266.0 1020.0,263.0 1019.0,262.0 1017.5,258.0 1018.5,254.0 1020.0,252.5ZM728.0,258.0 728.0,258.0 728.0,258.0 732.0,258.4 736.0,259.4 740.0,260.9 741.9,262.0 744.0,264.3 745.3,266.0 745.3,270.0 744.0,271.7 741.9,274.0 740.0,275.1 736.0,276.6 732.0,277.6 728.0,278.0 728.0,278.0 728.0,278.0 724.0,277.6 720.0,276.6 716.0,275.1 714.2,274.0 712.0,271.7 710.7,270.0 710.7,266.0 712.0,264.3 714.2,262.0 716.0,260.9 720.0,259.4 724.0,258.4ZM334.8,290.0 336.0,289.4 340.0,288.3 344.0,287.8 348.0,287.7 352.0,288.0 356.0,288.6 360.0,289.3 363.1,290.0 364.0,290.2 368.0,291.3 372.0,291.8 376.0,291.8 380.0,291.5 384.0,291.1 388.0,290.4 389.4,290.0 392.0,289.7 396.0,289.2 400.0,288.5 404.0,287.8 408.0,287.2 412.0,286.7 416.0,286.3 420.0,286.1 424.0,286.0 428.0,286.1 432.0,286.2 436.0,286.4 440.0,286.5 444.0,286.8 448.0,287.2 452.0,287.8 456.0,288.6 460.0,289.4 464.0,290.0 464.2,290.0 468.0,293.0 469.5,294.0 468.0,294.9 465.9,298.0 464.0,300.3 463.4,302.0 463.4,306.0 464.0,307.4 465.3,310.0 468.0,313.6 468.5,314.0 472.0,317.3 473.4,318.0 476.0,319.8 480.0,320.7 484.0,319.8 486.9,318.0 488.0,317.5 492.0,315.8 495.3,314.0 496.0,313.7 500.0,312.9 504.0,312.3 508.0,311.1 509.9,310.0 512.0,309.0 515.2,306.0 516.0,305.1 518.4,302.0 520.0,299.2 520.8,298.0 524.0,294.0 524.0,294.0 528.0,291.6 530.6,290.0 532.0,289.3 536.0,287.9 540.0,286.8 544.0,286.1 548.0,286.0 552.0,286.5 556.0,287.3 560.0,288.3 564.0,289.3 565.9,290.0 568.0,290.7 572.0,291.8 576.0,292.4 580.0,293.2 582.0,294.0 584.0,294.3 588.0,295.2 592.0,296.5 594.2,298.0 596.0,298.6 600.0,300.4 602.0,302.0 604.0,303.0 608.0,305.1 609.1,306.0 612.0,307.8 614.7,310.0 616.0,311.3 619.5,314.0 620.0,314.5 624.0,317.0 625.4,318.0 628.0,319.4 632.0,321.8 632.2,322.0 636.0,324.7 638.9,326.0 640.0,327.0 644.0,328.0 646.0,330.0 644.2,334.0 644.3,338.0 644.5,342.0 644.0,344.2 643.4,346.0 640.0,348.8 638.2,350.0 636.0,351.0 632.0,352.4 628.0,353.3 624.0,353.8 620.0,353.6 616.0,352.6 612.0,350.7 610.7,350.0 608.0,348.9 604.5,350.0 604.0,350.3 600.0,353.3 598.1,354.0 596.0,354.8 592.0,355.3 588.0,355.2 584.0,354.4 583.2,354.0 580.0,352.2 577.9,350.0 578.6,346.0 580.0,345.2 584.0,342.6 585.3,342.0 588.0,340.8 591.4,338.0 588.0,335.7 586.1,334.0 584.0,333.0 580.0,331.0 578.0,330.0 576.0,329.2 572.0,329.3 571.3,330.0 568.6,334.0 568.0,334.9 565.6,338.0 564.0,339.9 560.5,342.0 560.0,342.3 556.0,343.2 552.0,343.3 548.0,343.6 545.1,346.0 547.0,350.0 548.0,352.9 548.6,354.0 548.2,358.0 548.0,358.3 545.4,362.0 544.0,363.1 540.2,366.0 540.0,366.2 536.3,370.0 540.0,372.5 544.0,373.6 548.0,372.7 551.0,370.0 552.0,369.0 556.0,366.7 558.7,366.0 560.0,365.6 564.0,365.7 564.8,366.0 568.0,367.6 570.8,370.0 571.3,374.0 568.0,376.3 566.3,378.0 564.0,378.8 560.0,380.2 556.0,381.5 554.1,382.0 552.0,382.5 548.8,386.0 548.0,387.8 547.4,390.0 546.5,394.0 545.8,398.0 544.8,402.0 544.0,403.5 542.8,406.0 540.5,410.0 540.0,410.5 536.9,414.0 536.0,414.8 532.2,418.0 532.0,418.1 528.0,420.3 524.7,422.0 524.0,422.4 520.0,423.7 516.0,424.6 512.0,425.1 508.0,425.2 504.0,424.9 500.0,424.3 496.0,423.2 493.3,422.0 492.0,421.5 488.0,419.1 486.6,418.0 484.0,415.7 482.4,414.0 480.0,411.0 479.2,410.0 476.2,406.0 476.0,405.8 472.0,402.7 470.6,402.0 468.0,401.0 464.0,399.6 460.0,398.1 459.9,398.0 456.0,395.2 454.7,394.0 452.0,390.4 451.7,390.0 450.9,386.0 450.9,382.0 448.0,380.5 444.0,380.2 440.0,380.3 436.0,380.4 432.0,380.6 428.0,380.8 424.0,381.0 420.0,381.2 416.0,381.4 412.0,381.5 408.0,381.7 404.0,381.8 400.0,381.8 396.0,381.7 392.0,381.7 388.0,381.6 384.0,381.7 381.1,382.0 380.0,382.3 376.0,383.6 372.0,385.8 371.6,386.0 368.0,387.3 364.0,388.3 360.0,388.9 356.0,389.3 352.0,389.4 348.0,389.4 344.0,389.4 340.0,389.3 336.0,389.3 332.0,389.2 328.0,389.0 324.0,388.7 320.0,388.2 316.0,387.9 312.0,387.9 308.0,388.0 304.0,388.3 300.0,388.7 296.0,388.9 292.0,389.1 288.0,389.4 284.0,389.6 280.0,389.8 276.0,389.6 272.0,388.4 268.0,386.5 267.4,386.0 264.0,384.4 261.2,382.0 260.0,380.7 257.2,378.0 256.0,376.6 252.0,374.1 251.9,374.0 248.0,370.3 247.7,370.0 247.3,366.0 248.0,365.3 251.2,362.0 252.0,361.5 256.0,358.8 257.3,358.0 260.0,355.5 262.1,354.0 263.2,350.0 262.8,346.0 262.4,342.0 261.6,338.0 260.0,336.2 259.1,334.0 256.0,330.5 255.7,330.0 253.5,326.0 252.0,322.5 251.8,322.0 251.5,318.0 252.0,316.1 252.6,314.0 255.6,310.0 256.0,309.7 260.0,307.6 263.2,306.0 264.0,305.6 268.0,304.1 272.0,302.7 273.9,302.0 276.0,301.0 280.0,299.8 284.0,299.0 288.0,298.4 291.9,298.0 292.0,298.0 296.0,297.8 300.0,297.8 304.0,297.7 308.0,297.5 312.0,297.1 316.0,296.7 320.0,296.0 324.0,294.5 325.0,294.0 328.0,292.8 332.0,291.2ZM292.0,328.9 290.1,330.0 288.0,332.7 286.1,334.0 286.2,338.0 288.0,340.4 289.1,342.0 292.0,344.4 296.0,345.0 300.0,344.2 304.0,342.6 305.1,342.0 308.0,340.5 310.9,338.0 311.6,334.0 308.0,331.9 305.7,330.0 304.0,329.2 300.0,327.5 296.0,327.0ZM898.7,290.0 900.0,289.5 904.0,288.8 908.0,288.4 912.0,288.3 916.0,288.2 920.0,288.4 924.0,288.6 928.0,289.1 932.0,289.8 932.7,290.0 936.0,290.7 940.0,291.9 944.0,293.2 945.3,294.0 948.0,295.4 952.0,297.8 952.2,298.0 956.0,301.9 956.1,302.0 957.6,306.0 957.8,310.0 956.5,314.0 956.0,314.6 953.2,318.0 952.0,319.0 948.1,322.0 948.0,322.1 944.0,324.0 940.0,325.7 939.1,326.0 936.0,327.2 932.0,328.1 928.0,328.8 924.0,329.2 920.0,329.5 916.0,329.5 912.0,329.3 908.0,328.9 904.0,328.2 900.0,327.3 896.7,326.0 896.0,325.8 892.0,323.7 889.5,322.0 888.0,320.8 884.0,318.7 880.0,320.6 878.7,322.0 876.0,324.1 872.9,326.0 872.0,326.7 868.0,328.4 864.0,329.2 860.0,329.6 856.0,329.5 852.0,329.1 848.0,328.3 844.0,326.5 843.4,326.0 840.0,323.8 838.1,322.0 836.0,319.0 835.1,318.0 834.0,314.0 834.1,310.0 835.8,306.0 836.0,305.7 839.0,302.0 840.0,301.1 844.0,298.7 845.7,298.0 848.0,296.5 852.0,295.5 856.0,295.0 860.0,294.9 864.0,295.2 868.0,296.1 872.0,298.0 872.0,298.0 876.0,300.2 878.6,302.0 880.0,303.3 884.0,303.9 885.7,302.0 888.0,299.1 889.0,298.0 892.0,294.4 892.6,294.0 896.0,291.1ZM1071.5,290.0 1072.0,289.7 1076.0,288.3 1080.0,287.5 1084.0,287.0 1088.0,286.9 1092.0,287.2 1096.0,287.8 1100.0,288.9 1102.3,290.0 1104.0,290.7 1108.0,293.0 1109.2,294.0 1112.0,296.9 1113.0,298.0 1114.5,302.0 1114.2,306.0 1112.2,310.0 1112.0,310.2 1108.0,313.0 1106.2,314.0 1104.0,315.1 1100.0,316.1 1096.0,316.7 1092.0,317.0 1088.0,316.8 1084.0,316.4 1080.0,315.5 1076.0,314.3 1075.6,314.0 1072.0,312.1 1068.7,310.0 1068.0,309.3 1065.1,306.0 1064.0,303.5 1063.3,302.0 1063.5,298.0 1064.0,297.2 1066.1,294.0 1068.0,292.4ZM1151.7,294.0 1152.0,293.9 1156.0,293.5 1160.0,293.7 1161.2,294.0 1164.0,294.4 1168.0,295.3 1172.0,296.4 1176.0,297.8 1176.3,298.0 1180.0,299.6 1184.0,301.4 1184.8,302.0 1188.0,303.8 1191.5,306.0 1192.0,306.3 1196.0,309.2 1196.9,310.0 1200.0,313.0 1201.0,314.0 1204.0,317.8 1204.1,318.0 1205.5,322.0 1205.0,326.0 1204.0,327.1 1200.0,329.3 1196.3,330.0 1196.0,330.1 1194.5,330.0 1192.0,329.9 1188.0,329.3 1184.0,328.5 1180.0,327.5 1176.0,326.1 1175.8,326.0 1172.0,324.4 1168.0,322.7 1167.0,322.0 1164.0,320.4 1160.0,318.0 1160.0,318.0 1156.0,315.1 1154.7,314.0 1152.0,311.5 1150.5,310.0 1148.0,306.9 1147.2,306.0 1145.7,302.0 1146.0,298.0 1148.0,296.0ZM873.9,338.0 876.0,337.1 880.0,336.4 884.0,336.4 888.0,337.0 890.7,338.0 892.0,338.5 896.0,340.7 897.9,342.0 900.0,344.0 902.1,346.0 904.0,348.8 905.0,350.0 906.7,354.0 906.0,358.0 904.0,358.9 900.0,359.6 896.0,359.9 892.0,359.9 888.0,359.7 884.0,359.2 880.0,358.2 879.7,358.0 876.0,356.1 872.4,354.0 872.0,353.6 869.1,350.0 868.0,346.8 867.7,346.0 868.0,345.0 869.0,342.0 872.0,339.1ZM1134.0,338.0 1136.0,337.0 1140.0,336.1 1144.0,335.7 1148.0,335.7 1152.0,336.1 1156.0,336.7 1160.0,337.9 1160.2,338.0 1164.0,339.4 1168.0,341.0 1169.5,342.0 1172.0,343.5 1175.6,346.0 1176.0,346.4 1179.2,350.0 1180.0,351.9 1181.0,354.0 1180.6,358.0 1180.0,358.7 1176.4,362.0 1176.0,362.2 1172.0,363.5 1168.0,364.1 1164.0,364.3 1160.0,364.1 1156.0,363.6 1152.0,362.8 1150.3,362.0 1148.0,361.3 1144.0,359.9 1140.2,358.0 1140.0,357.9 1136.0,355.2 1134.5,354.0 1132.0,351.3 1130.8,350.0 1129.1,346.0 1129.7,342.0 1132.0,339.5ZM690.7,354.0 692.0,353.7 696.0,353.5 700.0,353.8 700.4,354.0 704.0,356.5 705.2,358.0 708.0,361.0 708.9,362.0 712.0,363.1 716.0,364.1 720.0,364.9 723.2,366.0 724.0,366.2 728.0,367.7 732.0,369.6 732.6,370.0 736.0,372.5 737.8,374.0 740.0,376.9 740.9,378.0 741.5,382.0 740.0,384.9 739.1,386.0 736.0,387.6 732.0,388.6 728.0,389.0 724.0,389.0 720.0,388.5 716.0,387.8 712.0,386.6 711.0,386.0 708.0,384.7 704.0,382.8 702.9,382.0 700.0,379.6 698.3,378.0 696.0,375.3 694.3,374.0 692.0,372.0 688.0,370.6 684.5,370.0 684.0,369.7 680.4,370.0 680.0,370.0 676.0,371.3 672.0,372.6 668.0,373.1 664.0,372.4 660.0,370.6 659.0,370.0 660.0,367.2 661.0,366.0 664.0,364.3 668.0,363.8 672.0,364.0 676.0,364.2 677.8,362.0 680.0,359.6 681.3,358.0 684.0,356.4 688.0,354.7ZM258.9,394.0 260.0,392.7 264.0,392.6 266.0,394.0 267.8,398.0 265.9,402.0 264.0,404.1 260.0,405.0 258.2,402.0 257.7,398.0ZM836.8,410.0 840.0,407.8 844.0,406.2 848.0,406.2 852.0,407.8 855.2,410.0 856.0,411.7 856.8,414.0 856.0,416.3 855.2,418.0 852.0,420.2 848.0,421.8 844.0,421.8 840.0,420.2 836.8,418.0 836.0,416.3 835.2,414.0 836.0,411.7ZM1110.2,414.0 1112.0,413.4 1116.0,412.7 1120.0,412.3 1124.0,412.2 1128.0,412.3 1132.0,412.7 1136.0,413.4 1137.8,414.0 1140.0,415.1 1144.0,417.5 1144.6,418.0 1145.4,422.0 1144.0,424.0 1142.4,426.0 1140.0,427.3 1136.0,429.2 1133.8,430.0 1132.0,430.6 1128.0,431.3 1124.0,431.7 1120.0,431.8 1116.0,431.7 1112.0,431.3 1108.0,430.6 1106.2,430.0 1104.0,428.9 1100.0,426.5 1099.4,426.0 1098.6,422.0 1100.0,420.0 1101.6,418.0 1104.0,416.7 1108.0,414.8ZM1035.8,474.0 1036.0,473.9 1040.0,472.7 1044.0,472.0 1048.0,471.8 1052.0,471.9 1056.0,472.3 1060.0,472.9 1064.0,473.8 1064.5,474.0 1068.0,475.0 1072.0,476.2 1076.0,477.5 1076.8,478.0 1080.0,479.4 1084.0,481.0 1085.5,482.0 1088.0,483.3 1092.0,485.4 1092.9,486.0 1096.0,488.1 1098.9,490.0 1100.0,490.9 1104.0,493.8 1104.3,494.0 1107.9,498.0 1108.0,498.3 1108.9,502.0 1108.0,503.9 1106.8,506.0 1104.0,507.6 1100.0,509.3 1097.4,510.0 1096.0,510.3 1092.0,510.5 1088.0,510.4 1084.0,510.1 1083.7,510.0 1080.0,509.3 1076.0,508.5 1072.0,507.7 1068.0,506.6 1066.9,506.0 1064.0,505.0 1060.0,503.6 1056.5,502.0 1056.0,501.8 1052.0,499.8 1048.9,498.0 1048.0,497.5 1044.0,494.9 1042.8,494.0 1040.0,491.6 1038.1,490.0 1036.0,487.5 1034.7,486.0 1032.5,482.0 1032.4,478.0ZM1187.0,482.0 1188.0,481.4 1192.0,480.3 1196.0,479.5 1200.0,479.1 1204.0,479.0 1208.0,479.1 1212.0,479.6 1216.0,480.3 1220.0,481.4 1221.0,482.0 1224.0,483.4 1228.0,485.5 1228.6,486.0 1232.0,489.8 1232.2,490.0 1232.6,494.0 1232.0,495.0 1229.7,498.0 1228.0,499.2 1224.0,501.0 1220.9,502.0 1220.0,502.3 1216.0,503.0 1212.0,503.3 1208.0,503.4 1204.0,503.4 1200.0,503.5 1196.0,504.4 1193.8,506.0 1192.0,507.2 1188.0,509.9 1187.8,510.0 1184.0,511.3 1180.0,512.0 1176.0,512.4 1172.0,512.5 1168.0,512.2 1164.0,511.8 1160.0,511.0 1156.5,510.0 1156.0,509.9 1152.0,508.4 1148.0,507.0 1145.6,506.0 1144.0,505.1 1140.0,503.1 1137.2,502.0 1136.0,500.9 1132.0,498.3 1131.5,498.0 1130.8,494.0 1132.0,492.9 1135.4,490.0 1136.0,489.8 1140.0,488.9 1144.0,488.0 1148.0,487.2 1152.0,486.7 1156.0,486.4 1160.0,486.4 1164.0,486.5 1168.0,486.8 1172.0,487.1 1176.0,487.0 1179.4,486.0 1180.0,485.7 1184.0,483.8ZM923.3,486.0 924.0,485.9 925.0,486.0 928.0,486.4 932.0,488.1 936.0,489.9 936.1,490.0 938.7,494.0 939.7,498.0 937.4,502.0 936.0,503.2 932.0,505.2 928.7,506.0 928.0,506.1 927.0,506.0 924.0,505.6 920.0,503.9 916.0,502.1 915.9,502.0 913.3,498.0 912.3,494.0 914.6,490.0 916.0,488.8 920.0,486.8ZM991.8,498.0 992.0,497.9 996.0,497.1 1000.0,497.3 1002.1,498.0 1004.0,498.5 1008.0,500.3 1010.3,502.0 1012.0,503.2 1014.9,506.0 1016.0,507.3 1018.0,510.0 1020.0,513.7 1020.2,514.0 1021.3,518.0 1021.4,522.0 1020.5,526.0 1020.0,526.7 1017.2,530.0 1016.0,531.0 1012.0,532.4 1008.0,532.7 1004.0,532.1 1000.0,530.8 998.8,530.0 996.0,528.3 993.1,526.0 992.0,525.0 989.4,522.0 988.0,519.8 986.7,518.0 985.3,514.0 984.6,510.0 985.1,506.0 986.8,502.0 988.0,500.7ZM919.9,538.0 920.0,538.0 924.0,537.6 928.0,537.7 929.8,538.0 932.0,538.2 936.0,539.0 940.0,540.1 944.0,541.7 944.5,542.0 948.0,544.3 950.2,546.0 952.0,548.5 953.1,550.0 953.4,554.0 952.0,556.1 950.5,558.0 948.0,559.5 944.0,561.0 940.1,562.0 940.0,562.0 936.0,562.4 932.0,562.4 929.5,562.0 928.0,561.9 924.0,561.1 920.0,560.1 916.0,558.7 915.0,558.0 912.0,556.1 909.6,554.0 908.0,551.7 906.8,550.0 906.6,546.0 908.0,543.9 909.5,542.0 912.0,540.5 916.0,539.0ZM781.9,558.0 784.0,556.9 788.0,555.9 792.0,556.0 796.0,556.8 799.6,558.0 800.0,561.3 800.0,562.0 800.0,562.0 796.0,563.0 792.0,563.3 788.0,563.0 784.0,562.1 783.8,562.0ZM877.6,562.0 880.0,561.1 884.0,560.4 888.0,560.1 892.0,560.1 896.0,560.5 900.0,561.2 902.2,562.0 904.0,562.7 908.0,564.9 909.4,566.0 911.9,570.0 909.6,574.0 908.0,575.0 904.0,576.6 900.0,577.7 897.1,578.0 896.0,578.1 892.0,578.0 891.9,578.0 888.0,577.4 884.0,576.4 880.0,575.2 877.4,574.0 876.0,572.9 872.8,570.0 872.5,566.0 876.0,563.0ZM830.5,570.0 832.0,569.5 836.0,569.0 840.0,568.9 844.0,569.2 847.9,570.0 848.0,570.0 852.0,571.7 856.0,573.7 856.4,574.0 859.8,578.0 860.0,578.6 860.8,582.0 860.3,586.0 860.0,586.5 857.7,590.0 856.0,591.7 853.2,594.0 852.0,594.8 848.0,596.5 844.0,598.0 844.0,598.0 840.0,598.8 836.0,599.1 832.0,599.0 828.0,598.4 826.9,598.0 824.0,597.1 820.0,595.2 818.3,594.0 816.0,591.7 814.6,590.0 813.4,586.0 813.9,582.0 815.9,578.0 816.0,577.9 820.0,574.4 820.5,574.0 824.0,572.2 828.0,570.7ZM987.7,570.0 988.0,569.8 992.0,568.8 996.0,568.3 1000.0,568.2 1004.0,568.5 1008.0,569.3 1009.7,570.0 1012.0,571.3 1015.9,574.0 1016.0,574.2 1016.7,578.0 1016.0,579.0 1013.5,582.0 1012.0,583.0 1008.0,584.5 1004.0,586.0 1003.8,586.0 1000.0,586.9 996.0,588.7 994.8,590.0 994.6,594.0 994.0,598.0 992.0,601.4 991.5,602.0 988.0,604.3 984.6,606.0 984.0,606.3 980.0,607.3 976.0,607.7 972.0,607.7 968.0,607.4 964.0,606.8 961.1,606.0 960.0,605.8 956.0,604.4 952.0,602.8 950.7,602.0 948.0,600.3 944.7,598.0 944.0,597.3 941.3,594.0 940.0,591.0 939.5,590.0 939.8,586.0 940.0,585.7 942.8,582.0 944.0,581.0 948.0,578.9 950.4,578.0 952.0,577.4 956.0,576.7 960.0,576.4 964.0,576.4 968.0,576.6 972.0,576.7 976.0,576.6 980.0,574.8 980.9,574.0 984.0,572.3ZM707.8,602.0 708.0,601.8 712.0,600.3 716.0,599.5 720.0,599.8 724.0,600.9 725.8,602.0 728.0,604.8 728.7,606.0 728.1,610.0 728.0,610.1 724.0,613.0 721.9,614.0 720.0,614.6 716.0,614.8 712.0,614.2 711.6,614.0 708.0,611.5 706.4,610.0 705.6,606.0ZM902.6,606.0 904.0,605.5 908.0,605.0 912.0,604.9 916.0,605.4 918.1,606.0 920.0,606.4 924.0,608.0 928.0,610.0 928.0,610.0 932.0,613.7 932.2,614.0 934.1,618.0 934.6,622.0 933.4,626.0 932.0,627.8 929.8,630.0 928.0,631.3 924.0,633.2 921.4,634.0 920.0,634.5 916.0,635.0 912.0,635.1 908.0,634.6 905.9,634.0 904.0,633.6 900.0,632.0 896.1,630.0 896.0,630.0 892.0,626.3 891.8,626.0 889.9,622.0 889.4,618.0 890.6,614.0 892.0,612.2 894.2,610.0 896.0,608.7 900.0,606.8ZM972.0,622.0 972.0,622.0 976.0,620.8 980.0,620.2 984.0,620.4 988.0,621.3 989.3,622.0 992.0,623.4 995.7,626.0 996.0,626.3 998.8,630.0 1000.0,632.0 1001.0,634.0 1002.2,638.0 1002.7,642.0 1002.5,646.0 1001.7,650.0 1000.3,654.0 1000.0,654.4 997.3,658.0 996.0,659.4 993.0,662.0 992.0,662.7 988.0,664.5 984.0,665.7 980.0,666.0 976.0,665.1 972.0,663.7 969.0,662.0 968.0,661.3 964.5,658.0 964.0,657.3 962.0,654.0 960.1,650.0 960.0,649.6 959.3,646.0 959.2,642.0 959.6,638.0 960.0,636.9 961.0,634.0 963.1,630.0 964.0,628.8 966.6,626.0 968.0,624.8ZM1190.2,630.0 1192.0,629.5 1196.0,629.3 1200.0,629.9 1200.3,630.0 1204.0,632.1 1206.2,634.0 1208.0,636.7 1208.7,638.0 1208.8,642.0 1208.0,644.2 1207.1,646.0 1204.0,648.7 1201.9,650.0 1200.0,650.9 1196.0,651.6 1192.0,651.6 1188.0,650.9 1186.1,650.0 1184.0,648.7 1181.0,646.0 1180.0,644.0 1179.3,642.0 1179.6,638.0 1180.0,637.4 1182.6,634.0 1184.0,632.9 1188.0,630.7Z"/>
<path fill="#2390a4" d="M903.5,66.0 904.0,65.6 908.0,64.4 912.0,65.1 913.5,66.0 912.4,70.0 912.0,70.2 908.0,70.8 904.9,70.0 904.0,68.3ZM951.7,66.0 952.0,65.9 956.0,65.1 960.0,65.1 964.0,65.9 964.3,66.0 964.0,66.3 960.0,68.4 956.0,68.4 952.0,66.3ZM191.4,74.0 192.0,73.7 196.0,71.9 200.0,71.0 204.0,70.6 208.0,70.6 212.0,71.0 216.0,71.9 220.0,73.7 220.6,74.0 224.0,77.9 224.0,78.0 224.0,78.2 223.0,82.0 220.0,84.2 216.0,86.0 216.0,86.0 212.0,87.1 208.0,87.5 204.0,87.5 200.0,87.1 196.0,86.0 196.0,86.0 192.0,84.2 189.0,82.0 188.0,78.2 188.0,78.0 188.0,77.9ZM1222.6,90.0 1224.0,89.1 1228.0,88.1 1232.0,88.2 1236.0,89.3 1237.5,90.0 1240.0,91.2 1243.8,94.0 1244.0,94.2 1247.3,98.0 1248.0,99.6 1249.1,102.0 1249.0,106.0 1248.0,107.6 1245.2,110.0 1244.0,110.6 1240.0,111.1 1236.0,110.6 1234.4,110.0 1232.0,109.2 1228.0,107.1 1226.5,106.0 1224.0,103.6 1222.5,102.0 1220.4,98.0 1220.0,94.0ZM1178.0,106.0 1180.0,105.2 1184.0,104.6 1188.0,105.0 1191.0,106.0 1192.0,106.2 1196.0,108.0 1198.7,110.0 1200.0,111.1 1202.6,114.0 1204.0,117.1 1204.5,118.0 1205.0,122.0 1204.0,124.7 1203.5,126.0 1200.0,129.4 1198.9,130.0 1196.0,131.3 1192.0,131.9 1188.0,131.8 1184.0,130.9 1181.7,130.0 1180.0,129.4 1176.0,127.0 1174.7,126.0 1172.0,122.7 1171.5,122.0 1170.0,118.0 1170.2,114.0 1172.0,110.5 1172.3,110.0 1176.0,106.8ZM1059.9,126.0 1060.0,126.0 1064.0,124.7 1068.0,123.9 1072.0,123.5 1076.0,123.4 1080.0,123.6 1084.0,124.2 1088.0,125.4 1089.5,126.0 1092.0,127.5 1094.9,130.0 1095.9,134.0 1094.2,138.0 1092.0,140.0 1089.5,142.0 1088.0,142.9 1084.0,144.8 1080.5,146.0 1080.0,146.2 1076.0,147.4 1072.0,148.1 1068.0,148.5 1064.0,148.6 1060.0,148.4 1056.0,147.7 1052.0,146.5 1050.9,146.0 1048.0,144.2 1045.6,142.0 1044.7,138.0 1046.5,134.0 1048.0,132.5 1051.1,130.0 1052.0,129.4 1056.0,127.4ZM1243.7,158.0 1244.0,158.0 1244.2,158.0 1248.0,158.2 1252.0,158.6 1256.0,159.5 1260.0,161.1 1261.6,162.0 1264.0,163.2 1267.8,166.0 1268.0,166.2 1271.7,170.0 1272.0,170.6 1274.0,174.0 1274.9,178.0 1274.5,182.0 1272.4,186.0 1272.0,186.4 1268.2,190.0 1268.0,190.2 1264.0,192.6 1260.0,193.8 1259.0,194.0 1256.0,194.8 1252.0,195.3 1248.0,195.2 1244.0,194.7 1241.0,194.0 1240.0,193.8 1236.0,192.8 1232.0,191.1 1230.3,190.0 1228.0,188.6 1224.9,186.0 1224.0,185.0 1221.5,182.0 1220.0,178.4 1219.8,178.0 1219.1,174.0 1220.0,170.4 1220.1,170.0 1222.3,166.0 1224.0,164.4 1227.3,162.0 1228.0,161.5 1232.0,159.6 1236.0,158.6 1240.0,158.1ZM980.1,170.0 984.0,168.1 988.0,168.1 991.9,170.0 992.0,170.1 993.7,174.0 992.1,178.0 992.0,178.1 988.0,180.3 984.0,180.3 980.0,178.2 979.8,178.0 978.3,174.0 980.0,170.1ZM814.9,226.0 816.0,225.5 820.0,224.6 824.0,224.8 828.0,225.8 828.4,226.0 832.0,229.0 832.9,230.0 832.0,232.7 831.3,234.0 828.0,235.3 824.0,235.6 820.0,235.0 817.3,234.0 816.0,233.1 812.9,230.0ZM1025.1,254.0 1028.0,252.2 1032.0,251.1 1036.0,250.9 1040.0,251.3 1044.0,252.5 1046.7,254.0 1048.0,255.6 1049.6,258.0 1048.1,262.0 1048.0,262.0 1044.0,264.7 1040.0,265.9 1038.4,266.0 1036.0,266.2 1035.0,266.0 1032.0,265.6 1028.0,264.2 1024.9,262.0 1024.0,260.3 1022.9,258.0 1024.0,255.8ZM1089.2,262.0 1092.0,260.9 1096.0,260.0 1100.0,259.7 1104.0,259.7 1108.0,260.3 1112.0,261.4 1113.5,262.0 1116.0,263.4 1119.2,266.0 1120.0,269.4 1120.1,270.0 1120.0,270.2 1116.2,274.0 1116.0,274.1 1112.0,275.4 1108.0,275.9 1104.0,275.7 1100.0,275.0 1097.1,274.0 1096.0,273.6 1092.0,271.3 1090.1,270.0 1088.0,266.8 1087.4,266.0 1088.0,264.3ZM721.2,266.0 724.0,264.6 728.0,263.9 732.0,264.6 734.8,266.0 734.8,270.0 732.0,271.4 728.0,272.1 724.0,271.4 721.2,270.0ZM340.2,294.0 344.0,293.2 348.0,293.0 352.0,293.3 354.8,294.0 356.0,294.3 360.0,295.7 364.0,297.8 364.3,298.0 367.9,302.0 368.0,302.1 371.8,306.0 372.0,306.4 374.7,310.0 374.5,314.0 372.0,316.6 370.7,318.0 368.0,321.5 367.8,322.0 368.0,326.0 368.0,326.1 369.5,330.0 371.1,334.0 372.0,335.2 376.0,337.1 380.0,335.8 382.3,334.0 384.0,332.3 386.4,330.0 388.0,328.7 392.0,326.0 392.0,326.0 396.0,323.0 397.6,322.0 400.0,318.9 400.7,318.0 400.1,314.0 400.0,313.6 398.3,310.0 397.2,306.0 397.1,302.0 398.7,298.0 400.0,297.0 404.0,294.7 405.6,294.0 408.0,293.2 412.0,292.3 416.0,291.8 420.0,291.5 424.0,291.5 428.0,291.7 432.0,292.0 436.0,292.4 440.0,292.9 444.0,293.7 445.0,294.0 448.0,294.8 452.0,297.1 453.0,298.0 455.4,302.0 456.0,303.2 457.1,306.0 458.9,310.0 460.0,312.8 460.7,314.0 463.0,318.0 464.0,319.2 466.6,322.0 468.0,322.9 471.4,326.0 472.0,326.4 476.0,329.8 476.2,330.0 480.0,333.1 481.2,334.0 484.0,336.4 487.6,338.0 488.0,338.2 488.5,338.0 492.0,334.0 492.1,334.0 496.0,331.8 500.0,333.5 500.5,334.0 504.0,336.9 505.2,338.0 508.0,338.8 512.0,339.2 516.0,339.3 520.0,339.6 524.0,340.2 528.0,341.6 528.7,342.0 532.0,342.8 536.0,345.5 536.5,346.0 540.0,349.7 540.2,350.0 542.1,354.0 541.5,358.0 540.0,359.8 538.0,362.0 536.0,363.5 532.0,365.4 529.4,366.0 528.0,366.8 524.0,368.5 520.3,370.0 524.0,371.1 528.0,373.2 529.3,374.0 532.0,374.4 536.0,375.5 540.0,377.6 540.6,378.0 543.6,382.0 543.8,386.0 543.0,390.0 541.8,394.0 540.5,398.0 540.0,399.2 539.3,402.0 537.4,406.0 536.0,407.9 534.5,410.0 532.0,412.5 530.2,414.0 528.0,415.7 524.0,417.8 523.4,418.0 520.0,419.6 516.0,420.7 512.0,421.2 508.0,421.3 504.0,421.0 500.0,420.2 496.0,418.6 494.9,418.0 492.0,416.5 488.8,414.0 488.0,413.2 485.1,410.0 484.0,408.3 482.4,406.0 480.1,402.0 480.0,401.9 476.0,398.7 474.5,398.0 472.0,397.2 468.0,396.0 464.0,394.3 463.6,394.0 460.0,391.0 459.1,390.0 457.8,386.0 458.8,382.0 458.4,378.0 456.0,377.3 452.0,376.9 448.0,377.1 444.0,377.4 440.0,377.6 436.0,377.8 432.2,378.0 432.0,378.0 428.0,378.3 424.0,378.6 420.0,378.8 416.0,379.0 412.0,379.1 408.0,379.2 404.0,379.2 400.0,379.1 396.0,378.9 392.0,378.6 388.0,378.2 385.3,378.0 384.0,377.9 380.0,377.8 376.0,378.0 376.0,378.0 372.0,379.5 368.8,382.0 368.0,382.5 364.0,384.8 360.0,385.9 359.5,386.0 356.0,386.7 352.0,387.0 348.0,387.1 344.0,387.1 340.0,387.3 336.0,387.4 332.0,387.3 328.0,386.8 324.5,386.0 324.0,385.9 320.0,385.5 316.0,384.9 312.0,384.7 308.0,385.2 304.0,385.7 301.4,386.0 300.0,386.3 296.0,386.9 292.0,387.3 288.0,387.5 284.0,387.5 280.0,387.0 277.0,386.0 276.0,385.8 272.0,384.8 268.0,382.6 267.2,382.0 264.1,378.0 264.0,377.0 263.4,374.0 262.9,370.0 263.6,366.0 264.0,365.6 268.0,362.8 269.7,362.0 272.0,361.3 276.0,360.6 280.0,360.2 284.0,359.9 288.0,359.6 292.0,358.9 294.3,358.0 296.0,357.1 300.0,354.0 300.0,354.0 303.9,350.0 304.0,350.0 308.0,346.9 309.1,346.0 312.0,343.7 313.4,342.0 316.0,338.9 316.5,338.0 316.3,334.0 316.0,333.8 312.0,331.7 309.7,330.0 308.0,329.2 304.0,326.8 302.7,326.0 300.0,324.6 296.0,323.7 292.0,324.9 289.7,326.0 288.0,327.1 284.0,329.0 280.0,330.0 279.9,330.0 276.0,331.1 272.0,331.3 268.0,330.6 266.7,330.0 264.0,329.0 260.5,326.0 260.0,325.2 258.3,322.0 258.2,318.0 260.0,314.7 260.3,314.0 264.0,310.6 264.8,310.0 268.0,307.9 272.0,306.0 272.1,306.0 276.0,304.0 280.0,302.7 283.7,302.0 284.0,301.9 288.0,301.2 292.0,301.1 296.0,301.5 299.4,302.0 300.0,302.1 304.0,302.4 308.0,302.6 312.0,302.7 316.0,303.0 320.0,303.6 324.0,305.3 324.8,306.0 328.0,306.7 332.0,308.0 335.0,310.0 336.0,310.3 340.0,311.3 344.0,310.3 344.1,310.0 344.0,309.6 342.6,306.0 340.0,303.6 337.0,302.0 336.0,300.6 333.7,298.0 336.0,296.5 340.0,294.1ZM535.5,294.0 536.0,293.7 540.0,292.1 544.0,291.4 548.0,291.3 552.0,291.7 556.0,292.5 560.0,293.7 560.9,294.0 564.0,294.7 568.0,295.3 572.0,295.4 576.0,295.4 580.0,295.6 584.0,296.2 588.0,297.6 588.9,298.0 592.0,298.8 596.0,300.6 598.2,302.0 600.0,302.9 604.0,305.6 604.7,306.0 608.0,307.7 610.9,310.0 612.0,311.0 615.0,314.0 616.0,315.6 618.6,318.0 620.0,319.0 624.0,320.8 625.9,322.0 628.0,322.9 632.0,325.9 632.1,326.0 635.9,330.0 636.0,330.2 638.3,334.0 639.0,338.0 638.4,342.0 636.0,345.3 635.5,346.0 632.0,348.4 628.0,349.5 624.0,349.7 620.0,349.1 616.0,347.5 614.0,346.0 612.0,344.6 608.9,342.0 608.0,341.0 604.0,338.2 603.7,338.0 600.0,336.7 596.0,334.9 594.5,334.0 592.0,333.3 588.0,331.8 585.0,330.0 584.0,329.7 580.0,327.9 577.2,326.0 576.0,325.4 572.0,324.0 568.0,324.5 566.5,326.0 565.1,330.0 564.0,332.1 562.8,334.0 560.0,336.4 556.0,337.6 552.0,337.7 548.0,337.4 544.0,337.1 540.0,336.9 536.0,336.6 532.0,335.8 528.4,334.0 528.0,333.9 524.0,332.0 521.0,330.0 520.0,329.0 517.1,326.0 516.2,322.0 516.6,318.0 518.3,314.0 520.0,311.5 520.9,310.0 523.8,306.0 524.0,305.7 526.5,302.0 528.0,300.1 529.8,298.0 532.0,296.1ZM908.9,294.0 912.0,293.2 916.0,292.6 920.0,292.4 924.0,292.5 928.0,292.9 932.0,293.7 932.9,294.0 936.0,294.6 940.0,295.9 943.8,298.0 944.0,298.1 948.0,301.1 949.0,302.0 951.3,306.0 951.6,310.0 950.1,314.0 948.0,316.3 946.4,318.0 944.0,319.8 940.0,321.9 939.7,322.0 936.0,323.7 932.0,324.9 928.0,325.6 924.5,326.0 924.0,326.1 920.0,326.5 916.0,326.5 912.0,326.1 911.4,326.0 908.0,325.6 904.0,324.8 900.0,323.5 897.3,322.0 896.0,321.3 892.0,318.0 892.0,318.0 889.1,314.0 888.7,310.0 889.9,306.0 892.0,303.3 893.0,302.0 896.0,299.4 898.3,298.0 900.0,296.9 904.0,295.1 908.0,294.1ZM1074.2,294.0 1076.0,293.0 1080.0,291.5 1084.0,290.8 1088.0,290.7 1092.0,291.0 1096.0,291.8 1100.0,293.4 1101.1,294.0 1104.0,295.9 1106.3,298.0 1108.0,301.7 1108.2,302.0 1108.0,303.0 1107.6,306.0 1104.0,309.8 1103.8,310.0 1100.0,311.9 1096.0,312.9 1092.0,313.3 1088.0,313.2 1084.0,312.6 1080.0,311.5 1077.0,310.0 1076.0,309.4 1072.0,306.2 1071.8,306.0 1069.7,302.0 1070.3,298.0 1072.0,296.0ZM853.3,298.0 856.0,297.4 860.0,297.4 863.2,298.0 864.0,298.1 868.0,299.0 872.0,300.9 873.5,302.0 876.0,304.2 877.9,306.0 879.8,310.0 879.9,314.0 878.4,318.0 876.0,320.5 874.5,322.0 872.0,323.9 868.0,325.7 866.8,326.0 864.0,327.0 860.0,327.7 856.0,327.7 852.0,327.0 849.3,326.0 848.0,325.7 844.0,323.8 841.7,322.0 840.0,320.2 838.2,318.0 836.9,314.0 837.1,310.0 838.9,306.0 840.0,304.8 843.0,302.0 844.0,301.3 848.0,299.1 852.0,298.1ZM1153.0,302.0 1156.0,299.2 1160.0,298.2 1164.0,298.3 1168.0,298.9 1172.0,299.8 1176.0,301.3 1177.4,302.0 1180.0,303.0 1184.0,305.1 1185.3,306.0 1188.0,307.7 1191.1,310.0 1192.0,310.9 1195.2,314.0 1196.0,315.4 1197.8,318.0 1197.9,322.0 1196.0,323.9 1192.0,325.3 1188.0,325.4 1184.0,324.9 1180.0,324.1 1176.0,322.7 1174.7,322.0 1172.0,321.0 1168.0,319.1 1166.3,318.0 1164.0,316.6 1160.5,314.0 1160.0,313.6 1156.2,310.0 1156.0,309.7 1153.4,306.0ZM878.7,342.0 880.0,341.5 884.0,341.2 887.3,342.0 888.0,342.2 892.0,344.7 893.5,346.0 894.7,350.0 892.0,353.1 889.7,354.0 888.0,354.4 884.0,354.2 883.5,354.0 880.0,352.8 876.1,350.0 876.0,349.7 874.8,346.0 876.0,344.2ZM1137.5,342.0 1140.0,340.6 1144.0,339.5 1148.0,339.2 1152.0,339.4 1156.0,340.0 1160.0,341.3 1161.6,342.0 1164.0,342.9 1168.0,345.1 1169.3,346.0 1172.0,348.7 1173.3,350.0 1174.7,354.0 1172.5,358.0 1172.0,358.3 1168.0,360.1 1164.0,360.8 1160.0,360.8 1156.0,360.4 1152.0,359.5 1148.4,358.0 1148.0,357.9 1144.0,356.1 1140.8,354.0 1140.0,353.3 1136.7,350.0 1136.0,347.6 1135.4,346.0 1136.0,344.6ZM702.1,370.0 704.0,368.6 708.0,367.4 712.0,367.3 716.0,367.6 720.0,368.3 724.0,369.7 724.7,370.0 728.0,371.6 731.5,374.0 732.0,374.6 734.7,378.0 734.4,382.0 732.0,383.9 728.0,385.2 724.0,385.5 720.0,385.2 716.0,384.4 712.0,383.0 710.1,382.0 708.0,380.8 704.4,378.0 704.0,377.3 701.9,374.0ZM1119.0,418.0 1120.0,417.8 1124.0,417.7 1126.9,418.0 1128.0,418.3 1132.0,421.5 1132.4,422.0 1132.0,422.3 1128.0,424.9 1125.0,426.0 1124.0,426.2 1120.0,426.3 1117.1,426.0 1116.0,425.7 1112.0,422.5 1111.6,422.0 1112.0,421.7 1116.0,419.1ZM1044.1,478.0 1048.0,476.7 1052.0,476.2 1056.0,476.3 1060.0,476.8 1064.0,477.6 1065.1,478.0 1068.0,478.6 1072.0,479.8 1076.0,481.4 1077.1,482.0 1080.0,483.2 1084.0,485.3 1085.1,486.0 1088.0,487.8 1091.0,490.0 1092.0,491.0 1095.2,494.0 1096.0,495.6 1097.5,498.0 1097.0,502.0 1096.0,502.8 1092.0,504.9 1088.0,505.6 1084.0,505.7 1080.0,505.4 1076.0,504.9 1072.0,504.0 1068.0,502.8 1066.1,502.0 1064.0,501.4 1060.0,499.8 1056.7,498.0 1056.0,497.7 1052.0,495.4 1049.9,494.0 1048.0,492.5 1045.1,490.0 1044.0,488.5 1041.9,486.0 1041.0,482.0 1044.0,478.0ZM1190.3,486.0 1192.0,485.0 1196.0,483.4 1200.0,482.6 1204.0,482.4 1208.0,482.5 1212.0,483.1 1216.0,484.1 1220.0,485.9 1220.2,486.0 1224.0,489.2 1224.8,490.0 1225.0,494.0 1224.0,495.0 1220.0,497.9 1219.7,498.0 1216.0,499.2 1212.0,499.7 1208.0,499.9 1204.0,499.6 1200.0,499.1 1196.0,498.5 1192.0,498.1 1188.2,502.0 1188.0,502.2 1184.7,506.0 1184.0,506.4 1180.0,508.1 1176.0,508.9 1172.0,509.1 1168.0,508.9 1164.0,508.3 1160.0,507.2 1157.1,506.0 1156.0,505.5 1152.0,503.1 1150.4,502.0 1148.1,498.0 1149.7,494.0 1152.0,492.6 1156.0,491.2 1160.0,490.6 1164.0,490.4 1168.0,490.5 1172.0,490.9 1176.0,491.5 1180.0,492.2 1184.0,492.5 1186.7,490.0 1188.0,488.7ZM995.5,502.0 996.0,501.8 1000.0,501.6 1001.5,502.0 1004.0,502.5 1008.0,504.5 1009.8,506.0 1012.0,508.0 1013.7,510.0 1015.8,514.0 1016.0,514.8 1017.0,518.0 1016.7,522.0 1016.0,523.3 1014.2,526.0 1012.0,527.6 1008.0,528.6 1004.0,528.2 1000.0,526.6 999.1,526.0 996.0,524.0 994.0,522.0 992.0,519.4 991.0,518.0 989.4,514.0 989.0,510.0 990.1,506.0 992.0,503.8ZM919.5,542.0 920.0,541.8 924.0,541.0 928.0,540.9 932.0,541.4 934.1,542.0 936.0,542.4 940.0,543.9 943.5,546.0 944.0,546.5 946.9,550.0 946.7,554.0 944.0,556.3 940.5,558.0 940.0,558.2 936.0,559.0 932.0,559.1 928.0,558.6 925.8,558.0 924.0,557.6 920.0,556.2 916.5,554.0 916.0,553.5 913.1,550.0 913.3,546.0 916.0,543.7ZM885.6,566.0 888.0,565.4 892.0,565.2 896.0,565.8 896.5,566.0 900.0,569.2 900.6,570.0 900.0,570.5 896.0,572.3 892.0,572.6 888.0,571.8 884.0,570.0ZM831.6,574.0 832.0,573.9 836.0,573.1 840.0,573.0 844.0,573.7 845.0,574.0 848.0,575.0 852.0,577.8 852.2,578.0 854.3,582.0 853.8,586.0 852.0,588.4 850.6,590.0 848.0,591.8 844.0,593.6 842.2,594.0 840.0,594.6 836.0,595.0 832.0,594.8 829.1,594.0 828.0,593.7 824.0,591.8 821.8,590.0 820.0,586.4 819.8,586.0 820.0,584.6 820.3,582.0 823.4,578.0 824.0,577.5 828.0,575.2ZM994.0,574.0 996.0,573.4 1000.0,573.2 1004.0,574.0 1004.1,574.0 1006.5,578.0 1004.0,579.6 1000.0,580.8 996.0,580.8 992.0,579.5 990.4,578.0 992.0,575.8ZM953.6,582.0 956.0,581.2 960.0,580.5 964.0,580.4 968.0,580.6 972.0,581.3 974.6,582.0 976.0,582.3 980.0,583.6 983.5,586.0 984.0,586.5 986.5,590.0 987.5,594.0 986.3,598.0 984.0,600.1 980.5,602.0 980.0,602.2 976.0,603.3 972.0,603.6 968.0,603.5 964.0,602.8 961.5,602.0 960.0,601.6 956.0,600.1 952.5,598.0 952.0,597.6 948.3,594.0 948.0,593.3 946.6,590.0 947.8,586.0 948.0,585.8 952.0,582.7ZM904.5,610.0 908.0,609.2 912.0,609.0 916.0,609.6 917.2,610.0 920.0,610.9 924.0,613.1 925.1,614.0 928.0,618.0 928.0,618.1 928.5,622.0 928.0,623.1 926.5,626.0 924.0,628.0 920.0,629.9 919.5,630.0 916.0,630.8 912.0,631.0 908.0,630.4 906.8,630.0 904.0,629.1 900.0,626.9 898.9,626.0 896.0,622.0 896.0,621.9 895.5,618.0 896.0,616.9 897.5,614.0 900.0,612.0 904.0,610.1ZM971.2,630.0 972.0,629.3 976.0,627.2 980.0,626.4 984.0,626.7 988.0,628.0 990.8,630.0 992.0,631.1 994.4,634.0 996.0,637.7 996.1,638.0 996.9,642.0 996.7,646.0 996.0,648.1 995.4,650.0 992.9,654.0 992.0,655.0 988.0,657.9 987.7,658.0 984.0,659.4 980.0,659.7 976.0,658.8 974.4,658.0 972.0,656.7 969.1,654.0 968.0,652.4 966.5,650.0 965.3,646.0 965.1,642.0 965.8,638.0 967.6,634.0 968.0,633.5ZM1191.9,642.0 1192.0,641.8 1196.0,641.7 1196.1,642.0 1196.0,642.1 1192.0,642.1Z"/>
<path fill="#065a91" d="M198.2,78.0 200.0,76.9 204.0,75.7 208.0,75.7 212.0,76.9 213.8,78.0 212.0,81.0 210.9,82.0 208.0,82.6 204.0,82.6 201.1,82.0 200.0,81.0ZM1177.4,114.0 1180.0,111.5 1184.0,110.0 1188.0,110.2 1192.0,111.5 1195.7,114.0 1196.0,114.3 1198.4,118.0 1198.5,122.0 1196.0,125.2 1194.6,126.0 1192.0,126.9 1188.0,126.9 1184.7,126.0 1184.0,125.8 1180.0,123.3 1178.7,122.0 1176.7,118.0ZM1062.4,130.0 1064.0,129.4 1068.0,128.5 1072.0,128.1 1076.0,128.2 1080.0,128.8 1083.2,130.0 1084.0,130.7 1086.4,134.0 1084.6,138.0 1084.0,138.5 1080.0,141.0 1077.8,142.0 1076.0,142.6 1072.0,143.5 1068.0,143.9 1064.0,143.8 1060.0,143.1 1057.0,142.0 1056.0,141.1 1053.8,138.0 1055.6,134.0 1056.0,133.7 1060.0,131.1ZM1235.5,162.0 1236.0,161.8 1240.0,160.9 1244.0,160.6 1248.0,160.9 1252.0,161.6 1253.2,162.0 1256.0,162.8 1260.0,164.5 1262.5,166.0 1264.0,167.1 1267.1,170.0 1268.0,171.4 1269.7,174.0 1270.6,178.0 1269.9,182.0 1268.0,185.0 1267.3,186.0 1264.0,188.6 1261.2,190.0 1260.0,190.6 1256.0,191.7 1252.0,192.3 1248.0,192.3 1244.0,191.9 1240.0,191.0 1237.5,190.0 1236.0,189.4 1232.0,187.4 1230.1,186.0 1228.0,184.1 1226.0,182.0 1224.0,178.0 1224.0,177.6 1223.5,174.0 1224.0,172.2 1224.6,170.0 1227.8,166.0 1228.0,165.8 1232.0,163.3ZM1030.5,258.0 1032.0,256.8 1036.0,255.9 1040.0,257.2 1041.0,258.0 1040.0,259.7 1036.0,261.8 1032.0,259.9ZM541.4,298.0 544.0,297.3 548.0,297.0 552.0,297.6 553.8,298.0 556.0,298.3 560.0,298.9 564.0,299.3 568.0,299.4 572.0,298.9 576.0,298.4 580.0,298.3 584.0,298.6 588.0,299.3 592.0,300.8 594.1,302.0 596.0,302.8 600.0,305.2 601.1,306.0 604.0,307.7 607.1,310.0 608.0,310.7 611.5,314.0 612.0,314.9 614.3,318.0 616.0,321.7 616.4,322.0 620.0,323.2 624.0,324.2 627.1,326.0 628.0,326.4 632.0,330.0 632.0,330.0 634.5,334.0 635.1,338.0 634.0,342.0 632.0,344.2 628.7,346.0 628.0,346.4 624.0,346.9 620.8,346.0 620.0,345.9 616.0,343.9 613.7,342.0 612.0,339.9 610.2,338.0 608.0,334.9 606.2,334.0 604.0,333.5 600.0,332.7 596.0,331.6 592.0,330.0 592.0,330.0 588.0,329.0 584.0,327.2 582.1,326.0 580.0,325.0 576.0,322.2 575.6,322.0 572.0,320.5 568.0,320.0 564.0,320.7 560.7,322.0 560.0,323.9 559.2,326.0 557.6,330.0 556.0,331.3 552.0,332.1 548.0,332.1 544.0,332.1 540.0,331.9 536.0,331.4 532.1,330.0 532.0,330.0 528.0,327.5 526.3,326.0 524.3,322.0 524.2,318.0 525.6,314.0 528.0,310.6 528.5,310.0 531.8,306.0 532.0,305.8 535.2,302.0 536.0,301.2 540.0,298.5ZM908.1,298.0 912.0,296.8 916.0,296.1 920.0,295.8 924.0,295.8 928.0,296.2 932.0,297.1 934.5,298.0 936.0,298.5 940.0,300.4 942.2,302.0 944.0,304.2 945.3,306.0 945.9,310.0 944.0,313.9 944.0,314.0 940.0,317.7 939.5,318.0 936.0,320.0 932.0,321.5 929.9,322.0 928.0,322.6 924.0,323.4 920.0,323.7 916.0,323.7 912.0,323.3 908.0,322.4 907.0,322.0 904.0,321.1 900.0,319.1 898.4,318.0 896.0,315.2 895.1,314.0 894.4,310.0 896.0,306.0 896.0,306.0 899.9,302.0 900.0,302.0 904.0,299.5 908.0,298.0ZM1078.8,298.0 1080.0,297.2 1084.0,295.6 1088.0,295.2 1092.0,295.6 1096.0,296.9 1097.8,298.0 1100.0,300.8 1100.8,302.0 1100.0,304.3 1099.2,306.0 1096.0,307.8 1092.0,308.7 1088.0,308.7 1084.0,307.8 1080.1,306.0 1080.0,305.9 1077.2,302.0ZM419.4,302.0 420.0,301.7 424.0,300.4 428.0,299.8 432.0,299.6 436.0,299.7 440.0,300.1 444.0,301.2 445.3,302.0 448.0,303.7 449.9,306.0 452.0,309.0 452.6,310.0 454.4,314.0 456.0,317.7 456.2,318.0 459.5,322.0 460.0,322.3 464.0,324.9 465.4,326.0 468.0,327.4 471.4,330.0 472.0,330.4 476.0,333.7 476.3,334.0 480.0,337.5 480.5,338.0 484.0,341.9 484.2,342.0 487.9,346.0 488.0,346.2 492.0,349.5 496.0,349.8 500.0,348.5 504.0,346.8 505.3,346.0 508.0,345.0 512.0,343.7 516.0,343.2 520.0,343.1 524.0,343.6 528.0,344.8 530.2,346.0 532.0,346.9 535.5,350.0 536.0,351.0 537.6,354.0 536.4,358.0 536.0,358.4 532.0,361.5 530.2,362.0 528.0,362.9 524.0,363.4 520.0,363.0 516.6,362.0 516.0,361.9 512.0,360.9 508.0,359.4 504.0,358.5 500.0,359.3 497.2,362.0 496.0,363.5 495.3,366.0 494.2,370.0 492.1,374.0 492.0,374.8 491.5,378.0 492.0,378.2 492.9,378.0 496.0,377.0 500.0,375.7 504.0,375.0 508.0,374.8 512.0,374.8 516.0,375.1 520.0,375.6 524.0,376.2 528.0,376.8 532.0,377.7 532.6,378.0 536.0,379.2 539.2,382.0 540.0,385.6 540.1,386.0 540.0,386.3 539.2,390.0 537.5,394.0 536.0,397.4 535.8,398.0 534.3,402.0 532.0,405.9 531.9,406.0 528.5,410.0 528.0,410.4 524.0,413.4 522.7,414.0 520.0,415.4 516.0,416.7 512.0,417.3 508.0,417.4 504.0,417.0 500.0,416.0 496.1,414.0 496.0,414.0 492.0,411.1 490.9,410.0 488.0,406.1 487.9,406.0 485.7,402.0 484.1,398.0 484.0,397.6 481.2,394.0 480.0,392.7 476.0,391.4 472.0,390.4 470.9,390.0 468.0,387.1 467.3,386.0 468.0,383.7 468.5,382.0 468.0,381.2 466.8,378.0 464.0,376.5 460.2,374.0 460.0,373.9 456.0,372.7 452.0,372.8 448.0,373.9 447.4,374.0 444.0,374.6 440.0,375.2 436.0,375.6 432.0,375.8 428.0,376.0 424.0,376.1 420.0,376.2 416.0,376.3 412.0,376.3 408.0,376.3 404.0,376.2 400.0,376.0 396.0,375.7 392.0,375.3 388.0,374.8 384.0,374.2 382.4,374.0 380.0,373.0 376.0,370.8 374.8,370.0 376.0,369.5 379.2,366.0 376.0,363.3 374.9,362.0 372.0,361.4 368.0,360.8 364.0,360.8 360.0,361.5 358.4,362.0 356.0,364.7 354.5,366.0 356.0,366.8 360.0,368.7 363.5,370.0 364.0,370.3 367.8,374.0 364.8,378.0 364.0,378.8 360.8,382.0 360.0,382.4 356.0,383.7 352.0,384.3 348.0,384.6 344.0,384.8 340.0,385.1 336.0,385.3 332.0,385.3 328.0,385.0 324.0,384.4 320.0,383.2 317.0,382.0 316.0,381.6 312.0,380.7 308.0,381.7 307.5,382.0 304.0,383.2 300.0,384.3 296.0,384.9 292.0,385.3 288.0,385.4 284.0,385.2 280.0,384.7 276.0,383.6 272.8,382.0 272.0,381.0 269.6,378.0 272.0,374.2 272.2,374.0 276.0,371.4 280.0,370.5 284.0,370.1 285.2,370.0 288.0,369.5 292.0,369.0 296.0,368.2 299.2,366.0 300.0,365.3 302.5,362.0 304.0,360.7 306.5,358.0 308.0,356.4 310.0,354.0 312.0,352.0 313.4,350.0 316.0,346.9 316.4,346.0 318.6,342.0 320.0,339.9 320.9,338.0 320.8,334.0 320.0,333.5 316.0,331.2 314.3,330.0 312.0,329.0 308.0,326.8 306.8,326.0 304.0,324.1 300.8,322.0 300.0,321.3 296.0,319.9 292.0,320.7 289.8,322.0 288.0,323.0 284.0,325.0 280.5,326.0 280.0,326.2 276.0,326.9 272.0,326.6 270.1,326.0 268.0,325.1 264.8,322.0 264.4,318.0 266.5,314.0 268.0,312.6 271.2,310.0 272.0,309.5 276.0,307.4 279.9,306.0 280.0,305.9 284.0,304.9 288.0,304.6 292.0,305.1 295.7,306.0 296.0,306.1 300.0,306.6 304.0,306.5 308.0,306.4 312.0,306.3 316.0,306.5 320.0,307.0 324.0,307.8 328.0,309.4 329.1,310.0 332.0,311.0 336.0,312.8 338.1,314.0 340.0,315.1 344.0,317.5 345.2,318.0 348.0,319.0 352.0,319.0 356.0,318.5 359.7,322.0 360.0,322.2 362.6,326.0 364.0,328.7 364.6,330.0 366.3,334.0 368.0,337.3 368.6,338.0 372.0,339.5 376.0,340.2 380.0,339.9 384.0,338.9 385.9,338.0 388.0,335.9 389.8,334.0 392.0,331.9 394.3,330.0 396.0,328.7 400.0,326.1 400.1,326.0 404.0,323.2 406.0,322.0 408.0,319.7 409.6,318.0 411.1,314.0 412.0,311.4 412.7,310.0 416.0,306.2 416.3,306.0ZM847.9,302.0 848.0,302.0 852.0,300.3 856.0,299.6 860.0,299.6 864.0,300.3 868.0,301.9 868.2,302.0 872.0,304.4 873.7,306.0 875.9,310.0 876.0,312.6 876.1,314.0 876.0,314.2 874.4,318.0 872.0,320.5 869.9,322.0 868.0,323.2 864.0,324.6 860.0,325.2 856.0,325.2 852.0,324.6 848.0,323.2 846.1,322.0 844.0,320.4 841.8,318.0 840.2,314.0 840.4,310.0 842.5,306.0 844.0,304.6ZM352.6,306.0 356.0,304.1 360.0,305.2 361.1,306.0 364.0,308.9 364.8,310.0 364.0,312.0 362.6,314.0 360.0,316.1 356.0,316.8 354.4,314.0 352.0,310.4 351.8,310.0 352.0,308.3ZM1161.3,306.0 1164.0,303.9 1168.0,303.4 1172.0,304.1 1176.0,305.3 1177.4,306.0 1180.0,307.3 1184.0,309.7 1184.4,310.0 1188.0,313.5 1188.5,314.0 1189.6,318.0 1188.0,319.3 1184.0,320.2 1180.0,319.8 1176.0,318.6 1174.5,318.0 1172.0,316.8 1168.0,314.6 1167.1,314.0 1164.0,311.1 1162.8,310.0ZM1143.2,346.0 1144.0,345.3 1148.0,343.7 1152.0,343.5 1156.0,344.1 1160.0,345.3 1161.3,346.0 1164.0,347.9 1166.3,350.0 1166.7,354.0 1164.0,355.7 1160.0,356.5 1156.0,356.3 1152.0,355.4 1148.7,354.0 1148.0,353.6 1144.0,350.3 1143.6,350.0ZM710.7,374.0 712.0,373.1 716.0,372.4 720.0,372.9 722.8,374.0 724.0,375.1 726.5,378.0 724.0,380.0 720.0,380.5 716.0,379.6 712.5,378.0 712.0,377.0ZM1053.9,482.0 1056.0,481.5 1060.0,481.4 1064.0,481.9 1064.4,482.0 1068.0,482.9 1072.0,484.1 1076.0,485.8 1076.3,486.0 1080.0,488.1 1082.9,490.0 1084.0,491.2 1086.7,494.0 1087.2,498.0 1084.0,499.9 1080.0,500.6 1076.0,500.4 1072.0,499.7 1068.0,498.6 1066.5,498.0 1064.0,497.0 1060.0,495.1 1058.1,494.0 1056.0,492.4 1053.0,490.0 1052.0,488.2 1050.6,486.0 1052.0,483.4ZM1197.8,490.0 1200.0,488.4 1204.0,487.2 1208.0,487.2 1212.0,488.3 1215.3,490.0 1214.0,494.0 1212.0,494.7 1208.0,495.1 1204.0,494.8 1201.3,494.0 1200.0,492.9ZM1158.2,498.0 1160.0,496.6 1164.0,495.2 1168.0,495.0 1172.0,495.7 1176.0,497.2 1177.4,498.0 1178.6,502.0 1176.0,503.6 1172.0,504.6 1168.0,504.5 1164.0,503.6 1160.3,502.0 1160.0,501.5ZM994.5,510.0 996.0,508.0 1000.0,506.4 1004.0,507.3 1008.0,509.8 1008.2,510.0 1011.0,514.0 1011.9,518.0 1010.0,522.0 1008.0,523.2 1004.0,523.4 1000.6,522.0 1000.0,521.7 996.1,518.0 996.0,517.8 994.3,514.0ZM923.3,546.0 924.0,545.7 928.0,545.2 932.0,545.6 933.5,546.0 936.0,547.3 939.2,550.0 936.7,554.0 936.0,554.3 932.0,554.8 928.0,554.5 926.5,554.0 924.0,552.7 920.8,550.0ZM828.4,582.0 832.0,579.5 836.0,578.2 840.0,578.2 844.0,580.0 846.1,582.0 845.6,586.0 844.0,587.3 840.0,589.4 836.0,590.0 832.0,589.1 828.0,586.2 827.8,586.0 828.0,584.7ZM959.4,586.0 960.0,585.8 964.0,585.3 968.0,585.5 970.0,586.0 972.0,586.6 976.0,588.8 977.5,590.0 979.0,594.0 976.0,597.2 974.4,598.0 972.0,598.6 968.0,598.7 964.1,598.0 964.0,598.0 960.0,596.2 956.7,594.0 956.0,592.4 955.1,590.0 956.0,588.7ZM903.3,618.0 904.0,617.2 908.0,614.6 912.0,614.1 916.0,615.1 920.0,617.7 920.3,618.0 920.7,622.0 920.0,622.8 916.0,625.4 912.0,625.9 908.0,624.9 904.0,622.3 903.7,622.0ZM979.8,634.0 980.0,633.9 980.5,634.0 984.0,634.5 988.0,637.6 988.3,638.0 989.6,642.0 989.2,646.0 988.0,648.1 986.3,650.0 984.0,651.5 980.0,652.0 976.0,650.4 975.5,650.0 972.9,646.0 972.4,642.0 973.9,638.0 976.0,635.7Z"/>
<path fill="#1e7423" d="M1183.3,118.0 1184.0,116.8 1188.0,115.5 1192.0,117.8 1192.2,118.0 1192.0,118.9 1188.6,122.0 1188.0,122.1 1187.7,122.0 1184.0,119.1ZM1066.3,134.0 1068.0,133.5 1072.0,133.2 1076.0,134.0 1076.0,134.0 1076.0,134.0 1073.8,138.0 1072.0,138.6 1068.0,138.8 1064.2,138.0ZM1232.8,166.0 1236.0,164.5 1240.0,163.5 1244.0,163.1 1248.0,163.3 1252.0,164.0 1256.0,165.3 1257.5,166.0 1260.0,167.5 1263.3,170.0 1264.0,170.9 1266.1,174.0 1267.1,178.0 1266.1,182.0 1264.0,184.7 1262.7,186.0 1260.0,187.6 1256.0,189.1 1252.0,189.8 1248.0,189.9 1244.0,189.4 1240.0,188.4 1236.0,186.8 1234.6,186.0 1232.0,184.0 1229.8,182.0 1228.0,179.0 1227.4,178.0 1227.0,174.0 1228.0,171.0 1228.4,170.0 1232.0,166.5ZM545.6,302.0 548.0,301.5 552.0,301.2 556.0,301.3 560.0,301.6 563.8,302.0 564.0,302.0 565.7,302.0 568.0,302.0 572.0,301.1 576.0,300.1 580.0,299.7 584.0,299.9 588.0,300.8 590.7,302.0 592.0,302.4 596.0,304.2 598.6,306.0 600.0,306.9 604.0,309.6 604.5,310.0 608.0,312.6 609.4,314.0 611.8,318.0 612.0,318.8 613.3,322.0 615.5,326.0 616.0,326.2 620.0,326.1 624.0,326.7 628.0,328.7 629.4,330.0 632.0,334.0 632.0,334.1 632.7,338.0 632.0,339.7 630.9,342.0 628.0,344.1 624.0,344.9 620.0,344.0 616.9,342.0 616.0,341.2 613.2,338.0 612.0,334.4 611.7,334.0 608.0,331.0 604.0,331.1 600.0,330.4 599.0,330.0 596.0,329.4 592.0,328.6 588.0,327.3 585.6,326.0 584.0,325.4 580.0,323.2 578.3,322.0 576.0,320.5 572.0,318.3 570.5,318.0 568.0,317.7 564.0,317.8 562.3,318.0 560.0,318.6 556.0,320.6 554.5,322.0 552.0,325.7 551.6,326.0 548.0,327.5 544.0,328.2 540.0,328.3 536.0,327.6 532.6,326.0 532.0,325.5 529.2,322.0 528.9,318.0 530.8,314.0 532.0,312.5 534.6,310.0 536.0,308.5 538.9,306.0 540.0,304.9 544.0,302.4ZM854.0,302.0 856.0,301.6 860.0,301.6 862.1,302.0 864.0,302.4 868.0,304.1 870.5,306.0 872.0,308.0 873.3,310.0 873.5,314.0 872.0,317.0 871.4,318.0 868.0,320.8 865.5,322.0 864.0,322.6 860.0,323.4 856.0,323.4 852.0,322.6 850.5,322.0 848.0,320.7 844.7,318.0 844.0,316.8 842.7,314.0 842.9,310.0 844.0,308.2 845.6,306.0 848.0,304.2 852.0,302.4ZM905.0,302.0 908.0,300.5 912.0,299.2 916.0,298.5 920.0,298.2 924.0,298.3 928.0,298.7 932.0,299.7 936.0,301.4 937.1,302.0 940.0,304.7 941.1,306.0 941.9,310.0 940.0,313.6 939.8,314.0 936.0,317.1 934.4,318.0 932.0,319.1 928.0,320.4 924.0,321.1 920.0,321.5 916.0,321.4 912.0,321.0 908.0,320.0 904.0,318.2 903.6,318.0 900.0,314.8 899.2,314.0 898.3,310.0 900.0,306.3 900.1,306.0 904.0,302.7ZM1087.1,302.0 1088.0,301.5 1090.8,302.0 1088.0,302.5ZM276.1,310.0 280.0,308.4 284.0,307.6 288.0,307.9 292.0,309.1 294.7,310.0 296.0,311.3 300.0,310.3 300.5,310.0 304.0,309.2 308.0,308.5 312.0,308.1 316.0,308.2 320.0,308.7 324.0,309.8 324.4,310.0 328.0,311.1 332.0,312.7 334.4,314.0 336.0,315.0 340.0,317.6 340.6,318.0 344.0,320.4 347.1,322.0 348.0,322.4 352.0,323.3 356.0,324.5 357.9,326.0 360.0,327.9 361.4,330.0 363.4,334.0 364.0,335.4 365.5,338.0 368.0,340.1 372.0,341.9 372.9,342.0 376.0,342.3 380.0,342.2 381.5,342.0 384.0,341.4 388.0,339.7 390.4,338.0 392.0,336.4 394.3,334.0 396.0,332.5 399.2,330.0 400.0,329.4 404.0,326.8 405.5,326.0 408.0,324.3 411.9,322.0 412.0,321.9 415.9,318.0 416.0,317.8 418.6,314.0 420.0,312.6 423.7,310.0 424.0,309.8 428.0,307.8 432.0,306.8 436.0,306.3 440.0,306.4 444.0,307.6 446.9,310.0 448.0,311.3 449.7,314.0 451.6,318.0 452.0,318.7 454.4,322.0 456.0,323.1 460.0,325.6 460.6,326.0 464.0,327.6 467.8,330.0 468.0,330.1 472.0,332.7 473.5,334.0 476.0,336.2 477.9,338.0 480.0,340.3 481.6,342.0 484.0,345.0 484.9,346.0 487.7,350.0 488.0,350.6 490.4,354.0 491.5,358.0 491.6,362.0 491.0,366.0 489.6,370.0 488.0,372.4 486.6,374.0 484.0,376.3 480.0,377.9 478.6,378.0 476.0,378.4 475.2,378.0 472.0,377.4 468.0,375.8 465.1,374.0 464.0,373.5 460.0,371.2 457.6,370.0 456.0,368.8 452.0,367.1 448.8,370.0 448.0,370.3 444.0,371.8 440.0,372.8 436.0,373.3 432.0,373.7 428.0,373.8 424.0,373.9 420.0,374.0 416.0,374.0 412.0,374.0 408.0,373.9 404.0,373.6 400.0,373.2 396.0,372.4 392.0,371.2 389.2,370.0 388.0,368.6 386.7,366.0 384.0,364.8 380.1,362.0 380.0,362.0 376.0,360.8 372.0,359.8 368.0,359.0 364.0,358.6 360.0,359.2 356.0,360.6 352.3,362.0 352.0,362.3 348.0,364.8 344.2,366.0 348.0,367.5 352.0,369.7 352.5,370.0 356.0,371.6 359.5,374.0 359.5,378.0 356.0,380.7 352.3,382.0 352.0,382.1 348.0,382.6 344.0,383.2 340.0,383.8 336.0,384.1 332.0,384.2 328.0,383.8 324.0,382.9 321.8,382.0 320.0,381.3 316.0,379.5 313.2,378.0 312.0,376.2 309.9,374.0 310.0,370.0 311.4,366.0 312.0,365.0 315.3,362.0 316.0,361.0 317.3,358.0 317.7,354.0 318.7,350.0 320.0,346.6 320.1,346.0 321.6,342.0 323.9,338.0 324.0,336.6 324.2,334.0 324.0,333.8 320.0,331.3 318.0,330.0 316.0,329.1 312.0,327.3 309.9,326.0 308.0,324.7 304.3,322.0 304.0,321.7 300.0,318.3 299.3,318.0 296.0,315.2 292.0,316.5 290.5,318.0 288.0,319.5 284.0,322.0 283.9,322.0 280.0,323.4 276.0,323.7 272.0,322.9 270.6,322.0 268.8,318.0 270.8,314.0 272.0,312.9 276.0,310.0ZM1171.1,310.0 1172.0,309.5 1176.0,309.9 1176.3,310.0 1180.0,313.9 1180.1,314.0 1180.0,314.1 1176.0,314.1 1175.7,314.0 1172.0,310.7ZM513.7,346.0 516.0,345.3 520.0,345.1 524.0,345.7 524.7,346.0 528.0,347.0 532.0,349.6 532.4,350.0 534.6,354.0 532.9,358.0 532.0,358.8 528.0,360.6 524.0,361.1 520.0,360.8 516.0,359.7 512.6,358.0 512.0,357.6 508.0,354.0 507.9,354.0 507.7,350.0 508.0,349.7 512.0,346.6ZM1151.7,350.0 1152.0,349.7 1156.0,349.2 1157.8,350.0 1156.0,350.9 1152.0,350.2ZM278.4,374.0 280.0,373.3 284.0,372.3 288.0,371.9 292.0,372.0 296.0,372.4 300.0,373.4 301.5,374.0 304.0,375.5 306.4,378.0 304.0,379.8 301.3,382.0 300.0,382.4 296.0,383.5 292.0,384.0 288.0,384.2 284.0,383.9 280.0,383.1 277.1,382.0 276.0,381.0 273.4,378.0 276.0,375.3ZM509.9,378.0 512.0,377.9 513.5,378.0 516.0,378.1 520.0,378.4 524.0,378.7 528.0,378.9 532.0,379.7 536.0,382.0 536.0,382.0 537.8,386.0 536.8,390.0 536.0,391.5 534.8,394.0 532.8,398.0 532.0,399.6 531.0,402.0 528.3,406.0 528.0,406.4 524.1,410.0 524.0,410.1 520.0,412.5 516.0,413.9 515.1,414.0 512.0,414.7 508.0,414.8 504.0,414.2 503.5,414.0 500.0,412.9 496.0,410.6 495.2,410.0 492.0,406.6 491.5,406.0 489.3,402.0 488.2,398.0 488.0,396.5 487.5,394.0 488.0,390.0 488.0,390.0 490.4,386.0 492.0,384.8 496.0,382.1 496.1,382.0 500.0,379.9 504.0,378.7 508.0,378.1ZM1060.9,490.0 1064.0,486.7 1068.0,487.3 1072.0,488.7 1074.9,490.0 1076.0,491.7 1077.7,494.0 1076.0,495.0 1072.0,495.2 1068.0,494.4 1066.9,494.0 1064.0,492.0ZM999.6,514.0 1000.0,513.2 1004.0,512.7 1005.4,514.0 1004.7,518.0 1004.0,518.3 1003.3,518.0 1000.0,514.8Z"/>
<path fill="#55dc69" d="M1239.6,166.0 1240.0,165.9 1244.0,165.4 1248.0,165.6 1250.4,166.0 1252.0,166.4 1256.0,168.1 1259.2,170.0 1260.0,170.8 1262.6,174.0 1263.7,178.0 1262.3,182.0 1260.0,184.2 1257.2,186.0 1256.0,186.5 1252.0,187.3 1248.0,187.5 1244.0,187.1 1240.0,186.0 1240.0,186.0 1236.0,183.8 1233.7,182.0 1232.0,179.8 1230.9,178.0 1230.5,174.0 1232.0,170.7 1232.4,170.0 1236.0,167.5ZM575.4,302.0 576.0,301.8 580.0,301.2 584.0,301.3 586.9,302.0 588.0,302.2 592.0,303.5 596.0,305.6 596.5,306.0 600.0,308.2 602.5,310.0 604.0,311.1 607.5,314.0 608.0,314.6 610.4,318.0 611.2,322.0 610.5,326.0 608.0,328.2 604.0,329.2 600.0,328.9 596.0,328.1 592.0,327.2 588.8,326.0 588.0,325.7 584.0,324.1 580.7,322.0 580.0,321.6 576.0,318.9 574.3,318.0 572.0,316.9 568.0,316.3 564.0,316.5 560.0,316.7 556.0,316.9 552.0,317.9 551.8,318.0 548.5,322.0 548.0,322.4 544.0,324.3 540.0,324.7 536.0,323.4 534.3,322.0 533.5,318.0 536.0,314.2 536.2,314.0 540.0,311.3 541.8,310.0 544.0,308.2 546.4,306.0 548.0,305.2 552.0,303.8 556.0,303.3 560.0,303.2 564.0,303.4 568.0,303.4 572.0,302.8ZM910.0,302.0 912.0,301.2 916.0,300.3 920.0,299.9 924.0,300.0 928.0,300.6 932.0,301.9 932.1,302.0 936.0,304.5 937.6,306.0 938.6,310.0 936.3,314.0 936.0,314.2 932.0,316.8 929.3,318.0 928.0,318.5 924.0,319.4 920.0,319.8 916.0,319.7 912.0,319.1 908.7,318.0 908.0,317.7 904.0,315.1 902.8,314.0 901.6,310.0 903.6,306.0 904.0,305.7 908.0,302.9ZM848.8,306.0 852.0,304.4 856.0,303.5 860.0,303.5 864.0,304.4 867.3,306.0 868.0,306.6 870.6,310.0 870.9,314.0 868.5,318.0 868.0,318.4 864.0,320.6 860.0,321.6 856.0,321.6 852.0,320.5 848.0,318.4 847.5,318.0 845.2,314.0 845.5,310.0 848.0,306.7ZM311.5,310.0 312.0,309.9 316.0,309.9 316.7,310.0 320.0,310.4 324.0,311.3 328.0,312.5 331.3,314.0 332.0,314.4 336.0,316.8 337.7,318.0 340.0,320.1 342.6,322.0 344.0,323.2 348.0,325.0 351.5,326.0 352.0,326.1 356.0,327.8 358.4,330.0 360.0,332.1 361.1,334.0 363.1,338.0 364.0,339.3 367.3,342.0 368.0,342.3 372.0,343.2 376.0,343.5 380.0,343.4 384.0,342.9 388.0,342.2 388.5,342.0 392.0,339.7 393.8,338.0 396.0,335.7 397.8,334.0 400.0,332.2 403.1,330.0 404.0,329.4 408.0,327.0 410.0,326.0 412.0,324.7 416.0,322.3 416.5,322.0 420.0,318.4 420.4,318.0 424.0,314.1 424.2,314.0 428.0,311.7 432.0,310.5 436.0,310.1 440.0,310.7 444.0,312.9 445.0,314.0 447.5,318.0 448.0,318.8 450.0,322.0 452.0,323.7 455.6,326.0 456.0,326.2 460.0,327.8 464.0,329.8 464.3,330.0 468.0,332.0 470.7,334.0 472.0,334.9 475.5,338.0 476.0,338.5 479.3,342.0 480.0,342.9 482.5,346.0 484.0,348.2 485.4,350.0 487.4,354.0 488.0,355.9 488.8,358.0 488.9,362.0 488.0,366.0 488.0,366.0 486.2,370.0 484.0,372.4 481.4,374.0 480.0,374.8 476.0,375.5 472.0,374.9 469.9,374.0 468.0,373.3 464.0,371.3 461.9,370.0 460.0,368.6 456.9,366.0 456.0,365.1 452.9,362.0 452.0,361.1 448.3,358.0 448.0,357.7 446.7,358.0 444.4,362.0 445.3,366.0 444.0,367.6 441.2,370.0 440.0,370.4 436.0,371.1 432.0,371.5 428.0,371.7 424.0,371.6 420.0,371.5 416.0,371.4 412.0,371.2 408.0,370.9 404.0,370.4 401.9,370.0 400.0,369.5 396.0,367.9 393.4,366.0 392.0,365.6 388.0,364.0 384.4,362.0 384.0,361.9 380.0,360.7 376.0,359.4 372.0,358.2 371.1,358.0 368.0,357.4 364.0,357.0 360.0,357.2 357.4,358.0 356.0,358.6 352.0,360.4 348.0,361.6 345.6,362.0 344.0,362.6 340.0,363.1 336.0,362.6 335.3,362.0 332.0,361.4 328.0,359.8 325.6,358.0 324.0,356.3 322.5,354.0 321.9,350.0 322.5,346.0 324.0,342.2 324.1,342.0 326.0,338.0 327.0,334.0 324.0,331.5 321.5,330.0 320.0,329.3 316.0,327.6 312.8,326.0 312.0,325.5 308.0,322.8 306.9,322.0 304.0,318.8 303.1,318.0 301.9,314.0 304.0,312.4 308.0,310.7ZM275.0,314.0 276.0,313.3 280.0,311.3 284.0,310.6 288.0,313.4 288.4,314.0 288.0,314.4 285.0,318.0 284.0,318.7 280.0,320.2 276.0,320.0 273.5,318.0ZM615.6,330.0 616.0,329.7 620.0,328.0 624.0,328.5 626.6,330.0 628.0,331.1 630.2,334.0 630.7,338.0 628.1,342.0 628.0,342.0 624.0,343.2 620.0,342.2 619.7,342.0 616.0,338.7 615.4,338.0 614.1,334.0ZM511.2,350.0 512.0,349.4 516.0,347.2 520.0,346.7 524.0,347.2 528.0,348.8 529.8,350.0 532.0,353.7 532.2,354.0 532.0,354.3 529.4,358.0 528.0,358.7 524.0,359.5 520.0,359.1 516.9,358.0 516.0,357.6 512.0,354.6 511.3,354.0ZM318.7,366.0 320.0,365.3 324.0,364.2 328.0,364.0 332.0,364.3 333.5,366.0 336.0,366.4 340.0,367.5 344.0,369.5 344.9,370.0 348.0,371.3 352.0,373.0 353.8,374.0 354.6,378.0 352.0,379.3 348.0,380.5 344.0,381.5 342.1,382.0 340.0,382.4 336.0,382.9 332.0,383.0 328.0,382.6 326.0,382.0 324.0,381.5 320.0,379.9 316.8,378.0 316.0,377.0 313.6,374.0 313.8,370.0 316.0,367.4ZM276.7,378.0 280.0,375.7 284.0,374.4 288.0,374.0 292.0,374.1 296.0,374.9 300.0,376.8 301.6,378.0 300.0,379.3 296.2,382.0 296.0,382.0 292.0,382.8 288.0,383.0 284.0,382.6 281.5,382.0 280.0,381.1ZM501.9,382.0 504.0,381.1 508.0,380.2 512.0,379.9 516.0,380.0 520.0,380.1 524.0,380.2 528.0,380.5 532.0,381.6 532.8,382.0 535.6,386.0 534.8,390.0 532.5,394.0 532.0,394.9 530.3,398.0 528.2,402.0 528.0,402.3 525.3,406.0 524.0,407.2 520.0,410.0 520.0,410.0 516.0,411.8 512.0,412.6 508.0,412.7 504.0,412.0 500.0,410.4 499.4,410.0 496.0,407.5 494.5,406.0 492.2,402.0 492.0,401.3 491.0,398.0 490.8,394.0 492.0,390.4 492.1,390.0 495.3,386.0 496.0,385.5 500.0,382.8Z"/>
<path fill="#fffb05" d="M1238.3,170.0 1240.0,169.3 1244.0,168.5 1248.0,168.6 1252.0,169.4 1253.5,170.0 1256.0,171.8 1258.2,174.0 1259.4,178.0 1257.2,182.0 1256.0,182.8 1252.0,184.2 1248.0,184.5 1244.0,184.0 1240.0,182.7 1238.8,182.0 1236.0,179.2 1235.2,178.0 1234.8,174.0 1236.0,172.2ZM916.8,302.0 920.0,301.6 924.0,301.8 925.2,302.0 928.0,302.6 932.0,304.4 934.2,306.0 935.5,310.0 932.9,314.0 932.0,314.6 928.0,316.6 924.0,317.7 921.0,318.0 920.0,318.1 916.9,318.0 916.0,318.0 912.0,317.1 908.0,315.3 906.2,314.0 904.6,310.0 907.0,306.0 908.0,305.3 912.0,303.2 916.0,302.1ZM552.6,306.0 556.0,305.0 560.0,304.6 564.0,304.7 568.0,304.8 572.0,304.3 576.0,303.2 580.0,302.5 584.0,302.5 588.0,303.3 592.0,304.7 594.5,306.0 596.0,306.9 600.0,309.6 600.6,310.0 604.0,312.4 605.9,314.0 608.0,316.5 609.0,318.0 609.8,322.0 608.0,325.8 607.8,326.0 604.0,327.7 600.0,327.5 596.0,326.7 593.0,326.0 592.0,325.8 588.0,324.6 584.0,322.8 582.7,322.0 580.0,320.3 576.7,318.0 576.0,317.5 572.0,315.6 568.0,315.0 564.0,315.2 560.0,315.2 556.0,314.8 552.2,314.0 552.0,313.9 548.5,310.0 552.0,306.4ZM853.6,306.0 856.0,305.4 860.0,305.4 862.5,306.0 864.0,306.7 867.8,310.0 868.0,311.7 868.2,314.0 868.0,314.3 864.7,318.0 864.0,318.4 860.0,319.4 856.0,319.4 852.0,318.4 851.3,318.0 848.0,314.2 847.9,314.0 848.0,312.5 848.3,310.0 852.0,306.8ZM306.5,314.0 308.0,313.1 312.0,312.0 316.0,311.7 320.0,312.0 324.0,312.7 328.0,314.0 328.1,314.0 332.0,316.2 334.9,318.0 336.0,319.1 339.3,322.0 340.0,322.8 344.0,325.9 344.3,326.0 348.0,327.2 352.0,328.3 355.1,330.0 356.0,330.5 358.9,334.0 360.0,335.8 361.2,338.0 364.0,341.9 364.1,342.0 368.0,343.7 372.0,344.5 376.0,344.7 380.0,344.6 384.0,344.1 388.0,343.4 392.0,342.2 392.5,342.0 396.0,338.8 396.7,338.0 400.0,334.8 400.9,334.0 404.0,331.6 406.6,330.0 408.0,329.1 412.0,327.0 414.1,326.0 416.0,324.8 420.0,322.3 420.5,322.0 424.0,318.4 424.5,318.0 428.0,315.1 430.7,314.0 432.0,313.5 436.0,313.3 438.6,314.0 440.0,314.6 443.5,318.0 444.0,318.7 446.0,322.0 448.0,324.2 450.2,326.0 452.0,326.9 456.0,328.4 460.0,329.9 460.2,330.0 464.0,331.7 468.0,334.0 468.0,334.0 472.0,337.0 473.2,338.0 476.0,340.8 477.1,342.0 480.0,345.5 480.4,346.0 483.0,350.0 484.0,351.8 485.2,354.0 486.2,358.0 486.2,362.0 485.1,366.0 484.0,368.2 482.6,370.0 480.0,371.8 476.0,372.8 472.0,372.5 468.0,371.2 465.6,370.0 464.0,369.0 460.1,366.0 460.0,365.9 456.1,362.0 456.0,361.9 452.3,358.0 452.0,357.6 448.0,354.1 446.7,354.0 444.0,353.8 443.7,354.0 440.7,358.0 440.0,361.4 439.9,362.0 440.0,365.2 440.0,366.0 440.0,366.0 436.0,368.2 432.0,369.1 428.0,369.3 424.0,369.2 420.0,369.0 416.0,368.8 412.0,368.4 408.0,367.8 404.0,366.9 401.4,366.0 400.0,365.7 396.0,364.6 392.0,363.3 388.9,362.0 388.0,361.8 384.0,360.7 380.0,359.4 376.0,358.1 375.8,358.0 372.0,356.8 368.0,356.1 364.0,355.6 360.0,355.7 356.0,356.9 353.5,358.0 352.0,358.7 348.0,360.2 344.0,360.9 340.0,361.0 336.0,360.4 332.0,359.0 330.3,358.0 328.0,356.4 325.7,354.0 324.4,350.0 324.5,346.0 325.8,342.0 328.0,338.2 328.1,338.0 329.6,334.0 328.0,332.0 325.4,330.0 324.0,329.4 320.0,327.7 316.0,326.1 315.7,326.0 312.0,323.6 309.6,322.0 308.0,320.0 306.2,318.0ZM620.0,330.0 620.0,330.0 620.1,330.0 624.0,330.3 628.0,333.5 628.4,334.0 628.8,338.0 628.0,339.3 624.0,341.5 620.0,340.3 617.5,338.0 616.4,334.0ZM514.3,350.0 516.0,349.0 520.0,348.2 524.0,348.6 527.0,350.0 528.0,351.1 529.9,354.0 528.0,356.3 524.0,357.9 520.0,357.4 516.0,355.6 514.0,354.0ZM316.8,370.0 320.0,367.7 324.0,366.7 328.0,366.7 332.0,367.1 336.0,368.0 340.0,369.7 340.6,370.0 344.0,371.7 348.0,373.8 348.4,374.0 349.1,378.0 348.0,378.4 344.0,379.9 340.0,381.1 336.0,381.7 332.0,381.8 328.0,381.3 324.0,380.2 320.0,378.4 319.2,378.0 316.1,374.0ZM279.9,378.0 280.0,377.9 284.0,376.2 288.0,375.6 292.0,375.9 296.0,377.1 297.6,378.0 296.0,379.2 292.0,381.1 288.0,381.5 284.0,380.6 280.0,378.1ZM510.6,382.0 512.0,381.8 516.0,381.8 520.0,381.8 524.0,381.8 527.2,382.0 528.0,382.1 532.0,383.9 533.7,386.0 533.0,390.0 532.0,391.6 530.5,394.0 528.1,398.0 528.0,398.2 525.9,402.0 524.0,404.4 522.4,406.0 520.0,407.8 516.0,409.7 514.7,410.0 512.0,410.7 508.0,410.7 504.4,410.0 504.0,409.9 500.0,408.1 497.4,406.0 496.0,404.2 494.6,402.0 493.4,398.0 493.5,394.0 495.1,390.0 496.0,388.9 499.0,386.0 500.0,385.3 504.0,383.3 508.0,382.2Z"/>
<path fill="#f9bd36" d="M559.9,306.0 560.0,306.0 560.5,306.0 564.0,306.1 568.0,306.4 570.3,306.0 572.0,305.8 576.0,304.6 580.0,303.8 584.0,303.7 588.0,304.4 592.0,305.8 592.4,306.0 596.0,308.1 598.8,310.0 600.0,310.9 604.0,313.8 604.3,314.0 607.6,318.0 608.0,320.2 608.3,322.0 608.0,322.7 604.6,326.0 604.0,326.3 600.0,326.2 599.0,326.0 596.0,325.4 592.0,324.6 588.0,323.5 584.8,322.0 584.0,321.6 580.0,319.0 578.6,318.0 576.0,316.1 572.0,314.3 570.1,314.0 568.0,313.5 564.0,313.8 560.0,313.6 556.0,312.3 552.8,310.0 556.0,307.3ZM910.5,306.0 912.0,305.2 916.0,303.9 920.0,303.4 924.0,303.6 928.0,304.6 930.6,306.0 932.0,308.6 932.6,310.0 932.0,310.8 929.3,314.0 928.0,314.7 924.0,315.9 920.0,316.4 916.0,316.2 912.0,315.1 909.8,314.0 908.0,311.0 907.6,310.0 908.0,309.3ZM854.0,310.0 856.0,309.3 860.0,309.2 862.1,310.0 863.1,314.0 860.0,315.5 856.0,315.5 853.0,314.0ZM311.9,314.0 312.0,314.0 316.0,313.4 320.0,313.5 322.9,314.0 324.0,314.4 328.0,316.2 331.8,318.0 332.0,318.1 336.0,321.9 336.1,322.0 339.3,326.0 340.0,326.5 344.0,328.4 348.0,329.3 350.4,330.0 352.0,330.4 356.0,333.0 356.8,334.0 359.4,338.0 360.0,339.2 362.0,342.0 364.0,343.8 368.0,345.2 372.0,345.8 376.0,346.0 380.0,345.8 384.0,345.3 388.0,344.6 392.0,343.6 395.5,342.0 396.0,341.6 399.2,338.0 400.0,337.2 403.6,334.0 404.0,333.7 408.0,331.0 409.9,330.0 412.0,328.8 416.0,326.9 418.1,326.0 420.0,324.8 424.0,322.2 424.4,322.0 428.0,318.7 429.4,318.0 432.0,316.8 436.0,316.8 438.5,318.0 440.0,319.1 442.1,322.0 444.0,324.4 445.4,326.0 448.0,327.8 452.0,329.4 454.0,330.0 456.0,330.5 460.0,331.9 464.0,333.6 464.6,334.0 468.0,336.1 470.5,338.0 472.0,339.4 474.6,342.0 476.0,343.7 477.8,346.0 480.0,349.0 480.6,350.0 482.5,354.0 483.7,358.0 483.3,362.0 481.4,366.0 480.0,367.8 476.4,370.0 476.0,370.1 472.0,370.1 471.5,370.0 468.0,368.5 464.0,366.2 463.7,366.0 460.0,362.9 459.1,362.0 456.0,359.1 455.0,358.0 452.0,354.7 451.2,354.0 448.0,351.5 444.0,351.0 440.0,353.9 439.9,354.0 437.1,358.0 436.0,360.5 434.8,362.0 432.0,365.8 431.5,366.0 428.0,366.4 424.0,366.5 420.0,366.3 416.0,366.0 416.0,366.0 412.0,365.5 408.0,364.9 404.0,364.1 400.0,363.3 396.0,362.3 394.9,362.0 392.0,361.5 388.0,360.6 384.0,359.5 380.0,358.2 379.5,358.0 376.0,356.5 372.0,355.5 368.0,354.8 364.0,354.2 360.0,354.2 356.0,355.5 352.0,357.3 349.9,358.0 348.0,358.8 344.0,359.6 340.0,359.5 336.0,358.7 334.3,358.0 332.0,357.0 328.3,354.0 328.0,353.4 326.3,350.0 326.2,346.0 327.5,342.0 328.0,341.1 329.9,338.0 332.0,334.2 332.2,334.0 332.0,333.4 330.2,330.0 328.0,328.9 324.0,327.4 320.0,326.1 319.6,326.0 316.0,323.8 312.7,322.0 312.0,321.1 309.7,318.0ZM618.7,334.0 620.0,332.5 624.0,332.3 626.0,334.0 626.4,338.0 624.0,339.5 620.0,338.4 619.6,338.0ZM518.5,350.0 520.0,349.6 523.5,350.0 524.0,350.2 527.4,354.0 524.0,356.0 520.0,355.7 516.7,354.0ZM319.6,370.0 320.0,369.7 324.0,368.3 328.0,368.0 332.0,368.4 336.0,369.5 337.2,370.0 340.0,371.4 344.0,373.7 344.6,374.0 344.8,378.0 344.0,378.3 340.0,379.8 336.0,380.5 332.0,380.6 328.0,380.0 324.0,378.9 321.9,378.0 320.0,376.0 318.4,374.0ZM283.9,378.0 284.0,378.0 288.0,377.3 292.0,377.6 293.1,378.0 292.0,378.6 288.0,379.1 284.0,378.1ZM502.6,386.0 504.0,385.2 508.0,384.0 512.0,383.5 516.0,383.3 520.0,383.3 524.0,383.2 528.0,383.7 531.7,386.0 531.2,390.0 528.7,394.0 528.0,395.1 526.1,398.0 524.0,401.4 523.6,402.0 520.0,405.7 519.5,406.0 516.0,407.9 512.0,408.9 508.0,409.0 504.0,408.0 500.3,406.0 500.0,405.7 496.9,402.0 496.0,399.4 495.6,398.0 495.8,394.0 496.0,393.6 497.7,390.0 500.0,387.8Z"/>
<path fill="#ec9430" d="M572.8,310.0 576.0,308.4 580.0,306.6 584.0,306.0 588.0,306.9 592.0,308.5 594.8,310.0 596.0,310.9 600.0,313.7 600.4,314.0 604.0,317.1 604.7,318.0 604.9,322.0 604.0,322.9 600.0,323.4 596.0,322.7 592.0,322.2 591.3,322.0 588.0,320.8 584.0,318.9 582.6,318.0 580.0,315.9 577.1,314.0 576.0,312.4ZM915.1,310.0 916.0,309.2 920.0,308.0 924.0,309.1 925.0,310.0 924.0,310.7 920.0,311.9 916.0,310.8ZM427.4,326.0 428.0,325.7 432.0,324.6 436.0,325.8 436.2,326.0 440.0,329.0 441.1,330.0 444.0,332.5 448.0,334.0 448.2,334.0 452.0,334.6 456.0,335.4 460.0,336.8 463.0,338.0 464.0,338.4 468.0,341.3 468.8,342.0 471.2,346.0 471.7,350.0 470.6,354.0 468.0,356.9 464.8,358.0 464.0,358.2 463.6,358.0 460.0,356.6 457.3,354.0 456.0,352.5 453.5,350.0 452.0,348.6 448.0,346.1 447.0,346.0 444.0,345.5 443.6,346.0 440.0,348.5 438.7,350.0 436.0,352.7 434.5,354.0 432.0,356.4 429.4,358.0 428.0,358.9 424.0,360.3 420.0,360.8 416.0,360.9 412.0,360.7 408.0,360.5 404.0,360.3 400.0,360.1 396.0,359.8 392.0,359.1 388.0,358.2 387.3,358.0 384.0,355.9 380.0,354.0 380.0,353.7 379.0,350.0 380.0,349.9 384.0,348.8 388.0,347.5 392.0,346.4 393.5,346.0 396.0,345.2 400.0,342.4 400.3,342.0 403.8,338.0 404.0,337.8 408.0,334.6 408.9,334.0 412.0,332.2 416.0,330.3 416.8,330.0 420.0,328.6 424.0,327.1ZM338.4,334.0 340.0,333.0 344.0,332.3 348.0,332.7 351.8,334.0 352.0,334.1 356.0,337.8 356.1,338.0 358.4,342.0 360.0,345.3 360.8,346.0 362.8,350.0 360.0,350.3 356.0,352.3 353.5,354.0 352.0,354.7 348.0,356.4 344.0,357.2 340.0,357.0 336.0,356.0 332.7,354.0 332.0,353.3 329.6,350.0 329.1,346.0 330.3,342.0 332.0,339.6 333.4,338.0 336.0,335.2ZM366.4,350.0 368.0,349.9 370.9,350.0 368.0,350.1ZM325.2,374.0 328.0,372.4 332.0,372.1 336.0,372.9 338.4,374.0 336.0,378.0 336.0,378.0 335.1,378.0 332.0,377.9 328.0,375.7ZM521.5,386.0 524.0,386.0 524.2,386.0 527.3,390.0 524.8,394.0 524.0,395.2 522.1,398.0 520.0,400.9 518.9,402.0 516.0,404.1 512.0,405.5 508.0,405.5 504.0,404.0 501.6,402.0 500.0,398.9 499.7,398.0 500.0,394.6 500.1,394.0 503.0,390.0 504.0,389.3 508.0,387.4 512.0,386.7 516.0,386.3 520.0,386.0Z"/>
<path fill="#fc0505" d="M584.1,314.0 588.0,313.0 591.8,314.0 588.0,314.8ZM414.6,334.0 416.0,333.3 420.0,331.8 424.0,330.7 428.0,330.2 432.0,330.5 436.0,332.5 437.7,334.0 440.0,338.0 440.0,338.0 440.0,338.0 439.8,342.0 437.6,346.0 436.0,347.8 434.0,350.0 432.0,351.8 428.8,354.0 428.0,354.5 424.0,356.3 420.0,357.1 416.0,357.4 412.0,357.4 408.0,357.3 404.0,357.4 400.0,357.3 396.0,356.9 392.0,355.6 389.3,354.0 390.4,350.0 392.0,349.5 396.0,348.5 400.0,347.0 401.2,346.0 404.0,342.8 404.5,342.0 408.0,338.2 408.2,338.0 412.0,335.4ZM337.1,338.0 340.0,336.2 344.0,335.3 348.0,335.6 352.0,337.4 352.6,338.0 355.3,342.0 356.0,344.9 356.4,346.0 356.0,346.9 354.7,350.0 352.0,352.0 348.5,354.0 348.0,354.2 344.0,355.1 340.0,354.9 337.5,354.0 336.0,353.3 332.7,350.0 332.0,347.1 331.8,346.0 332.0,345.3 333.1,342.0 336.0,338.8ZM459.8,346.0 460.0,345.8 464.0,344.4 465.6,346.0 466.1,350.0 464.0,352.2 460.4,350.0 460.0,347.3ZM513.7,390.0 516.0,389.9 517.4,390.0 519.8,394.0 517.3,398.0 516.0,399.3 512.0,401.6 508.0,401.4 504.4,398.0 505.1,394.0 508.0,391.6 512.0,390.1Z"/>
<path fill="#920505" d="M424.0,334.0 424.0,334.0 428.0,334.0 428.2,334.0 432.0,335.5 434.5,338.0 435.0,342.0 433.2,346.0 432.0,347.3 429.1,350.0 428.0,350.8 424.0,352.7 420.0,353.8 418.1,354.0 416.0,354.2 412.7,354.0 412.0,353.9 408.0,353.1 404.4,350.0 406.6,346.0 408.0,343.5 408.8,342.0 412.0,339.0 413.2,338.0 416.0,336.5 420.0,334.9ZM343.4,338.0 344.0,337.8 345.7,338.0 348.0,338.3 352.0,341.5 352.3,342.0 353.2,346.0 352.0,348.2 350.8,350.0 348.0,351.8 344.0,352.9 340.0,352.5 336.0,350.2 335.8,350.0 334.5,346.0 335.9,342.0 336.0,341.9 340.0,339.0Z"/>
<path fill="#c030c0" d="M343.9,342.0 344.0,342.0 344.1,342.0 348.0,345.9 348.0,346.0 348.0,346.0 344.0,348.7 340.0,347.0 339.4,346.0 340.0,344.8ZM418.4,342.0 420.0,341.3 424.0,341.1 425.4,342.0 424.1,346.0 424.0,346.0 420.0,347.1 416.2,346.0Z"/>
</g>
<g fill="none" stroke="#000" stroke-linejoin="round" stroke-linecap="round">
<path stroke-width="1.0" stroke="#0a0a0a" d="M291.3,276.6 L296.2,283.3 L301.7,286.4 L302.9,292.5 L308.4,306.6 L311.4,311.5 M302.9,292.5 L298.6,293.7 L288.8,300.5 L282.7,307.8 L280.9,316.4 L282.1,322.5 L280.3,326.2 L281.5,331.7 M281.5,331.7 L275.4,332.9 L265.6,334.7 L254.6,338.4 M281.5,331.7 L288.8,332.3 L298.6,334.7 L305.9,335.9 L308.4,342.1 L307.2,349.0 L303.5,356.3 M311.4,311.5 L308.4,316.4 L306.6,323.7 L308.4,329.8 L305.9,335.9 M311.4,311.5 L320.6,312.1 L332.8,313.9 L336.5,313.3 L339.0,309.0 L335.3,307.8 L337.7,304.1 L331.6,295.6 L328.6,293.7 L331.6,287.6 L332.8,283.3 M339.0,309.0 L342.6,313.9 L348.7,318.8 L347.5,328.6 L345.1,338.4 L345.7,349.0 L343.9,356.3 L346.3,363.7 L348.7,371.0 M347.5,284.6 L348.7,318.8 M366.5,284.6 L369.5,295.6 L370.2,307.8 L372.0,318.8 L369.5,326.2 L369.5,349.0 L369.5,353.9 L368.3,361.2 L367.7,371.0 L368.3,376.5 L373.2,382.0 L378.1,386.9 L375.7,397.9 L373.2,406.5 L369.5,415.0 L368.3,424.8 L366.5,436.0 M348.7,318.8 L357.3,321.3 L369.5,324.9 M386.7,283.0 L386.7,301.7 L386.0,317.6 L386.7,331.0 M369.5,331.3 L386.7,331.0 L395.0,327.0 L401.0,326.0 L401.0,333.0 L411.0,332.0 L423.0,330.0 L435.6,329.2 M438.6,285.2 L440.5,293.1 L439.2,305.4 L438.0,312.7 L438.6,318.8 L439.2,326.2 L435.6,329.2 L441.7,334.7 L446.6,340.8 L447.2,349.0 L446.6,355.1 L451.5,362.5 L453.9,369.8 L455.1,375.9 L450.3,379.6 L445.4,384.5 L446.6,390.6 L449.0,397.9 L451.5,407.7 L452.7,417.5 L455.1,424.8 L451.5,430.5 M439.2,305.4 L444.1,306.6 L447.8,307.8 L452.7,312.7 L454.5,322.5 L447.8,326.2 L438.0,327.4 M454.5,322.5 L462.5,319.4 L473.5,317.6 L484.5,317.6 L488.2,315.8 L493.1,318.8 L495.5,318.8 L496.7,323.7 L499.2,325.5 L502.8,328.6 M455.1,285.8 L455.8,293.1 L453.9,296.8 L457.6,300.5 L452.1,304.1 L452.7,312.7 M481.4,287.6 L481.4,301.7 L479.0,313.9 L480.8,317.6 M507.7,287.6 L507.1,300.5 L504.1,311.5 L500.4,322.5 L499.2,325.5 M474.1,318.2 L475.9,328.6 L477.8,334.7 L475.9,340.8 L475.3,349.0 L472.0,353.0 M502.8,328.6 L500.4,338.4 L496.7,343.3 L498.0,349.0 L501.6,349.0 L506.5,353.9 L505.3,358.8 L506.5,368.6 L502.8,373.5 M516.9,289.5 L517.5,295.6 L521.2,300.5 L521.8,307.8 L519.4,315.2 L517.5,318.8 L509.0,321.9 L505.3,326.2 L502.8,328.6 M519.4,315.2 L527.3,313.9 L534.6,311.5 L532.2,301.7 L534.0,294.4 L539.5,293.1 L544.4,290.7 M534.6,311.5 L542.0,309.6 L551.2,312.1 L551.8,305.4 L555.4,301.7 L560.3,300.5 L560.9,294.4 M551.2,312.1 L550.5,322.5 L549.3,331.0 L546.9,337.2 L550.5,344.5 L553.0,349.0 L557.9,356.3 L562.8,361.2 L567.7,360.0 M517.5,318.8 L522.4,321.3 L526.1,327.4 L527.3,333.5 L526.1,349.0 L531.0,353.9 M570.1,315.2 L570.1,326.2 L568.9,336.0 L567.7,343.3 L560.0,345.0 L553.0,349.0 M551.8,305.4 L562.0,306.0 L575.0,306.6 M575.0,313.9 L570.1,315.2 M597.0,296.3 L606.8,306.7 L614.1,321.4 L619.0,329.9 L626.4,339.7 L630.0,344.6 L634.9,347.7 L643.5,349.5 L650.8,351.9 L655.7,347.0 M598.2,332.4 L598.8,317.7 L603.1,315.6 L608.6,316.5 L611.7,320.1 M575.0,310.4 L579.9,311.6 L582.3,321.4 L584.8,329.9 L583.6,336.0 L589.7,338.5 L594.6,337.3 L598.2,332.4 L606.8,334.8 L616.6,336.0 L623.9,338.5 L626.4,339.7 M578.6,301.9 L577.0,306.0 L579.9,311.6 M583.6,336.0 L579.9,342.2 L575.0,344.6 L570.0,343.5 M589.7,338.5 L588.5,347.0 L586.0,354.4 L581.1,360.5 L575.0,365.0 L575.0,369.9 L579.9,376.0 L588.5,383.3 L593.3,393.1 M600.1,338.5 L603.1,344.6 L606.8,349.5 L605.6,356.8 L610.5,365.0 L605.6,372.3 L603.1,380.9 L599.5,388.2 L593.3,393.1 M630.0,344.6 L626.4,350.7 L623.9,354.4 L625.1,359.3 L622.7,365.0 L625.2,365.0 L627.6,368.7 L630.0,377.2 L631.3,389.5 M610.5,365.0 L615.4,360.5 L623.9,359.3 M611.7,294.5 L615.4,298.1 L622.7,299.3 L627.6,303.0 L631.3,306.7 L632.5,309.7 L629.4,311.6 L632.5,316.5 L633.7,321.4 L634.9,327.5 L633.7,331.1 L630.0,336.0 L626.4,339.7 M632.5,309.7 L638.6,306.7 L645.9,307.3 L645.3,315.2 L648.4,314.0 L653.3,307.9 L657.0,303.6 M645.3,315.2 L644.7,322.6 L647.2,329.9 L648.4,337.3 L653.3,343.4 L659.4,347.0 L663.1,342.2 L669.2,340.3 L672.8,342.2 L677.7,340.9 M659.4,347.0 L661.8,349.5 L659.4,356.8 L658.2,365.0 L659.4,367.4 L657.0,373.6 L650.8,374.8 L648.4,383.3 L644.7,390.7 M655.7,347.0 L653.3,351.9 L649.6,359.3 L645.9,365.0 L642.3,365.0 L636.2,374.8 L631.3,383.3 L631.3,389.5 M691.2,312.8 L685.1,314.6 L677.7,316.5 L676.5,321.4 L680.2,328.7 L679.0,334.8 L677.7,340.9 L681.4,344.6 L685.1,348.3 L692.4,350.7 L698.5,353.2 L701.0,356.8 L704.7,360.5 M703.4,320.1 L699.8,329.9 L692.4,334.8 L690.0,338.5 L685.1,341.5 L681.4,339.1 M681.4,339.1 L687.5,345.8 L696.1,343.4 L702.2,344.6 L708.3,342.2 L715.7,343.4 M659.4,367.4 L668.0,366.2 L675.3,367.4 L679.0,373.6 L681.4,374.8 M280.3,349.0 L281.5,352.7 L290.0,355.1 L297.4,351.4 L303.5,356.3 L305.9,361.2 L313.3,367.3 L314.5,372.2 M267.4,377.1 L272.9,380.8 L281.5,380.8 L288.8,379.0 L294.9,377.7 L303.5,374.7 L314.5,372.2 L323.1,368.6 L328.0,367.3 L339.0,369.2 L348.7,371.0 L358.5,371.6 L362.2,377.1 L368.3,376.5 M272.9,380.8 L279.0,386.9 L282.7,391.8 L290.0,394.3 L295.5,392.4 L292.5,388.1 L292.5,380.8 L294.9,377.7 M290.0,394.3 L288.8,400.4 L289.4,407.7 L286.4,415.0 L287.6,424.8 L287.0,438.0 M289.4,407.7 L299.8,406.5 L310.8,407.7 L320.6,408.9 L324.3,412.6 L332.8,415.0 L342.6,416.9 L352.4,418.7 L357.3,423.6 L358.5,433.0 L358.0,438.0 M308.4,373.5 L318.2,379.6 L325.5,384.5 L326.7,386.9 L324.3,395.5 L324.3,405.3 L324.3,412.6 M326.7,384.5 L332.8,382.0 L340.2,381.4 L343.9,384.5 L341.4,390.6 L343.9,397.9 L347.5,407.7 L352.4,418.7 M340.2,381.4 L350.0,380.8 L357.3,384.5 L361.0,380.8 L362.2,377.1 M369.5,353.9 L376.9,356.3 L381.8,352.7 L387.9,356.3 L392.8,360.6 L405.0,362.5 L409.9,364.9 L411.1,369.8 L414.8,373.5 L413.6,380.8 L411.1,388.1 L412.3,397.9 L409.9,410.2 L408.7,422.4 L406.2,431.0 M378.1,386.9 L386.7,388.1 L394.0,391.8 L405.0,386.9 L411.1,388.1 M386.7,388.1 L387.9,397.9 L386.7,407.7 L389.1,413.8 L395.2,412.6 L396.5,418.7 L392.8,424.8 L397.7,427.3 M330.4,415.7 L329.2,424.8 L328.0,440.0 M427.0,358.8 L429.5,353.9 L434.4,349.0 L441.7,334.7 M455.1,375.9 L462.5,377.7 L471.0,375.3 L478.4,374.7 L484.5,377.1 L485.7,384.5 L484.5,391.8 L483.3,397.9 L484.5,407.7 L486.9,412.6 L484.5,419.9 L480.8,427.3 L478.4,429.7 M457.6,382.0 L456.4,389.4 L458.8,396.7 L462.5,400.4 L466.2,397.9 L473.5,400.4 L480.8,401.0 L483.3,397.9 M461.3,349.0 L460.0,356.3 L458.8,366.1 L456.4,373.5 L455.1,375.9 M484.5,377.1 L493.1,375.3 L502.8,373.5 L511.4,377.1 L516.3,379.6 L517.5,385.7 L516.3,389.4 L522.4,395.5 L527.3,397.9 L531.0,401.6 M516.3,379.6 L524.9,377.1 L534.6,375.3 L538.3,372.2 L543.2,373.5 L545.7,369.8 L551.8,367.3 L560.3,361.2 L567.7,360.0 L570.1,366.1 L575.0,363.7 L581.1,360.5 M531.0,353.9 L532.2,361.2 L533.4,368.6 L538.3,372.2 M507.7,351.4 L515.1,353.9 L520.0,352.7 L531.0,353.9 L537.1,352.7 L543.2,349.0 L546.9,337.2 M543.2,379.6 L546.9,384.5 L555.4,384.5 L564.0,385.7 L575.0,384.5 L588.5,383.3 M543.2,373.5 L543.2,379.6 L545.7,389.4 L543.2,397.9 L548.1,402.8 L550.5,410.2 L559.1,408.9 L568.9,411.4 L572.6,406.5 L572.6,397.9 L575.0,399.2 L578.7,395.6 L584.8,394.4 L593.3,393.1 M484.5,407.7 L490.6,412.6 L498.0,413.8 L506.5,415.0 L512.6,419.9 L517.5,415.0 L520.0,411.4 L527.0,405.0 L531.0,401.6 M512.6,419.9 L510.2,427.3 L511.4,434.0 M550.5,410.2 L557.9,415.0 L551.8,418.7 L549.3,424.8 L549.3,440.0 M593.3,393.1 L601.9,395.6 L605.6,401.7 L606.8,405.4 L614.1,407.8 L626.4,413.9 L638.6,416.4 L645.9,418.8 L650.8,422.5 M606.8,402.9 L615.4,399.2 L623.9,398.0 L628.8,394.4 L631.3,389.5 L638.6,388.9 L644.7,390.7 L649.6,394.4 L653.3,393.1 L654.5,398.0 L663.1,402.9 L665.5,406.6 M590.9,395.6 L588.5,402.9 L583.6,407.8 L583.6,416.4 L581.1,418.8 L584.8,424.9 L588.5,435.0 M583.6,416.4 L590.9,413.9 L595.8,416.4 L597.0,422.5 L601.9,428.6 L602.5,432.3 M612.9,409.0 L615.4,416.4 L621.5,418.8 L623.9,424.9 L630.0,428.6 L636.2,429.8 M753.0,383.5 L762.0,381.5 L768.0,380.5 L770.0,378.0"/>
<path stroke-width="2.5" d="M240.6,319.0 L255.0,313.0 L269.0,306.0 L273.0,301.0 L271.0,293.0 L270.0,285.0 L274.0,279.0 L283.0,275.0 L293.0,273.6 L305.0,274.4 L319.0,279.0 L335.0,282.6 L347.0,284.4 L363.0,282.6 L379.0,280.6 L391.0,283.4 L405.0,284.4 L419.0,282.0 L435.0,283.4 L451.0,285.6 L467.0,287.4 L481.0,285.6 L495.0,284.0 L506.0,285.6 L520.0,288.6 L536.0,287.4 L548.7,289.9 L554.6,288.1 L557.5,289.6 L561.1,293.9 L566.2,290.6 L569.5,288.5 L569.8,292.5 L572.0,296.1 L576.4,299.7 L578.6,301.9 L583.7,301.2 L591.7,300.1 L583.7,296.1 L576.4,291.7 L572.8,288.5 L583.7,291.4 L594.6,294.7 L605.5,296.5 L609.1,293.9 L612.1,291.4 L620.1,292.8 L631.0,295.7 L636.8,293.2 L643.0,295.0 L650.0,298.1 L657.0,301.1 L662.2,305.9 L668.3,302.0 L668.8,307.2 L674.5,305.5 L678.8,310.3 L684.1,314.2 L688.4,312.0 L693.7,316.4 L699.8,318.6 L705.9,319.0 L711.1,316.0 L715.5,312.0 L719.4,313.3 L717.2,319.5 L715.5,329.9 L715.1,340.4 L715.5,347.4 L719.9,350.9 L724.2,352.6 L727.5,355.0 L727.0,358.0 L720.0,361.0 L714.0,365.0 L707.0,361.0 L698.0,365.0 L688.0,369.0 L680.0,375.0 L674.0,385.0 L669.0,395.0 L667.0,402.0 L664.0,407.0 L656.0,409.0 L658.0,416.0 L652.0,422.0 L642.0,426.0 L630.0,431.0 L618.0,433.0 L606.0,432.0 L598.0,435.0 L588.0,436.0 L578.0,439.0 L566.0,444.0 L556.0,446.0 L548.0,447.0 L547.0,442.0 L552.0,439.0 L548.0,437.0 L540.0,444.0 L530.0,442.0 L522.0,439.0 L514.0,433.0 L506.0,435.0 L498.0,440.0 L490.0,438.0 L487.0,434.0 L475.0,428.0 L461.0,429.0 L447.0,432.0 L435.0,434.0 L427.0,434.0 L415.0,432.0 L405.0,430.0 L393.0,429.0 L387.0,428.0 L384.0,425.0 L377.0,428.0 L379.0,431.0 L373.0,435.0 L363.0,438.0 L353.0,439.0 L345.0,439.0 L341.0,445.0 L333.0,445.0 L325.0,439.0 L315.0,434.0 L305.0,434.0 L295.0,437.0 L285.0,439.0 L275.0,438.0 L267.0,436.0 L265.0,444.0 L261.0,441.0 L257.0,430.0 L259.0,426.0 L269.0,422.0 L271.0,418.0 L265.0,416.0 L260.0,412.0 L263.0,400.0 L265.0,390.0 L267.0,380.0 L271.0,372.0 L275.0,364.0 L269.0,352.0 L263.0,342.0 L251.0,337.0 L247.0,330.0 L243.0,325.0Z"/>
<path stroke-width="2.2" d="M729.5,389.7 L739.8,389.3 L748.5,386.1 L757.2,379.8 L767.5,377.8 L781.7,375.8 L788.1,377.0 L795.2,379.4 L805.5,380.2 L814.2,381.0 L817.3,383.3 L819.7,387.3 L813.4,385.3 L807.1,387.3 L800.7,391.3 L797.6,392.4 L793.6,388.1 L788.1,391.3 L780.1,393.6 L774.6,394.8 L769.1,397.2 L762.7,398.8 L753.2,398.0 L746.1,399.2 L741.4,401.2 L735.8,399.6 L732.7,395.6 L731.1,392.4Z M799.6,324.8 L810.6,326.3 L820.8,329.4 L825.8,332.4 L827.4,336.5 L824.3,339.5 L820.8,338.5 L818.7,335.5 L816.7,334.5 L817.7,338.5 L818.7,342.6 L817.2,344.1 L812.6,340.6 L808.5,335.5 L803.9,330.4 L800.4,326.8Z M881.6,320.2 L890.1,326.3 L896.2,324.7 L903.2,327.8 L910.3,328.8 L918.3,327.8 L922.4,331.3 L928.4,334.3 L934.5,336.3 L940.5,333.3 L944.5,331.3 L940.5,327.3 L934.5,322.2 L926.4,318.2 L918.3,315.2 L910.3,316.7 L900.2,316.7 L890.1,320.2 L885.1,321.2Z M955.6,330.3 L958.6,324.2 L964.7,320.2 L970.7,316.7 L976.7,317.7 L985.8,320.2 L993.9,323.7 L996.9,327.3 L992.9,328.8 L985.8,326.3 L981.8,326.3 L985.8,331.3 L984.3,338.3 L978.8,335.3 L970.7,333.3 L963.7,334.3 L958.6,333.3Z M980.6,312.9 L985.1,309.8 L990.1,309.3 L994.2,303.3 L997.2,297.3 L1002.2,294.7 L1010.3,295.2 L1018.3,294.2 L1026.4,293.7 L1034.5,294.7 L1038.5,297.8 L1035.5,299.8 L1028.4,297.8 L1024.4,300.3 L1020.4,303.8 L1015.3,303.3 L1010.3,302.3 L1005.2,306.8 L1000.2,311.4 L996.2,314.9 L988.1,314.4 L982.1,313.9Z M1067.2,276.6 L1070.7,278.6 L1080.8,278.6 L1093.4,276.6 L1090.8,281.1 L1082.8,284.7 L1076.7,287.2 L1070.7,292.2 L1064.7,295.7 L1059.1,297.3 L1062.6,292.2 L1066.7,286.2 L1068.7,280.1Z M1069.0,209.8 L1094.7,209.0 L1105.4,212.8 L1109.0,222.8 L1090.7,215.6 L1077.9,215.1 L1072.3,213.8Z M933.1,490.3 L945.2,493.7 L956.4,486.8 L964.2,485.5 L970.3,489.9 L978.9,495.5 L988.4,498.5 L995.3,493.7 L1004.8,491.6 L1015.1,492.0 L1025.5,495.0 L1023.8,497.6 L1013.4,500.2 L1001.3,505.4 L988.4,508.0 L975.4,510.1 L958.2,512.7 L940.9,515.3 L927.1,518.8 L930.5,511.4 L930.1,498.5 L931.4,491.6Z M1013.0,322.0 L1019.0,320.5 L1023.0,322.0 L1023.5,328.0 L1020.0,325.0 L1016.0,324.5Z"/>
<ellipse cx="971.0" cy="296.5" rx="7.5" ry="2.8" transform="rotate(-3 971.0 296.5)" stroke-width="1.2"/>
<ellipse cx="1032.9" cy="287.2" rx="1.4" ry="4.2" transform="rotate(0 1032.9 287.2)" stroke-width="1.2"/>
<ellipse cx="924.4" cy="309.6" rx="2.2" ry="2.6" transform="rotate(20 924.4 309.6)" stroke-width="1.2"/>
<ellipse cx="911.3" cy="333.3" rx="2.0" ry="2.6" transform="rotate(30 911.3 333.3)" stroke-width="1.2"/>
<ellipse cx="801.9" cy="336.5" rx="1.6" ry="2.4" transform="rotate(20 801.9 336.5)" stroke-width="1.2"/>
<ellipse cx="823.8" cy="327.3" rx="2.2" ry="1.2" transform="rotate(20 823.8 327.3)" stroke-width="1.2"/>
<ellipse cx="179.0" cy="313.5" rx="1.6" ry="1.2" transform="rotate(0 179.0 313.5)" stroke-width="1.2"/>
<ellipse cx="458.0" cy="456.5" rx="4.0" ry="1.4" transform="rotate(-30 458.0 456.5)" stroke-width="1.2"/>
<circle cx="788.7" cy="331.4" r="1.3" fill="#000" stroke="none"/>
<circle cx="832.0" cy="333.4" r="1.6" fill="#000" stroke="none"/>
<circle cx="874.5" cy="326.8" r="1.3" fill="#000" stroke="none"/>
<circle cx="947.5" cy="337.3" r="1.2" fill="#000" stroke="none"/>
<circle cx="928.9" cy="345.2" r="1.0" fill="#000" stroke="none"/>
<circle cx="727.6" cy="313.3" r="1.3" fill="#000" stroke="none"/>
<circle cx="733.6" cy="324.4" r="1.2" fill="#000" stroke="none"/>
<circle cx="719.0" cy="327.3" r="1.0" fill="#000" stroke="none"/>
<circle cx="721.6" cy="334.7" r="0.9" fill="#000" stroke="none"/>
<circle cx="1008.2" cy="486.8" r="1.3" fill="#000" stroke="none"/>
<circle cx="906.3" cy="310.6" r="1.0" fill="#000" stroke="none"/>
<circle cx="476.5" cy="447.0" r="0.9" fill="#000" stroke="none"/>
<path stroke-width="1.0" d="M934.5,320.8 L956.5,319.6" stroke-dasharray="4 3"/>
<path stroke-width="3.2" d="M913,313.8 L919.5,318.3"/>
</g>
<path d="M102.0,64.0H1260.0V643.0H102.0Z M106.0,67.0V639.0H1256.0V67.0Z" fill="#d0dbe8" fill-rule="evenodd" opacity="0.85"/>
</g>
<rect x="102.0" y="64.0" width="1158.0" height="579.0" fill="none" stroke="#0c161f" stroke-width="2"/>
<g>
<rect x="1288.3" y="530.67" width="9.7" height="32.73" fill="#e4e4e4"/><rect x="1288.3" y="498.34" width="9.7" height="32.73" fill="#a5d5f8"/><rect x="1288.3" y="466.01" width="9.7" height="32.73" fill="#2390a4"/><rect x="1288.3" y="433.68" width="9.7" height="32.73" fill="#065a91"/><rect x="1288.3" y="401.35" width="9.7" height="32.73" fill="#1e7423"/><rect x="1288.3" y="369.02" width="9.7" height="32.73" fill="#55dc69"/><rect x="1288.3" y="336.68" width="9.7" height="32.73" fill="#fffb05"/><rect x="1288.3" y="304.35" width="9.7" height="32.73" fill="#f9bd36"/><rect x="1288.3" y="272.02" width="9.7" height="32.73" fill="#ec9430"/><rect x="1288.3" y="239.69" width="9.7" height="32.73" fill="#fc0505"/><rect x="1288.3" y="207.36" width="9.7" height="32.73" fill="#920505"/><rect x="1288.3" y="175.03" width="9.7" height="32.73" fill="#c030c0"/><rect x="1288.3" y="142.70" width="9.7" height="32.73" fill="#fcc8fc"/><path d="M1288.3,142.9 L1293.2,123.5 L1298.0,142.9 Z" fill="#fcc8fc"/><path d="M1288.3,142.9 L1293.2,123.5 L1298.0,142.9 L1298.0,563.2 L1293.2,582.6 L1288.3,563.2 Z" fill="none" stroke="#000" stroke-width="1.7" stroke-linejoin="miter"/><line x1="1298.8" y1="142.90" x2="1305.3" y2="142.90" stroke="#000" stroke-width="1.6"/><line x1="1298.8" y1="175.23" x2="1305.3" y2="175.23" stroke="#000" stroke-width="1.6"/><line x1="1298.8" y1="207.56" x2="1305.3" y2="207.56" stroke="#000" stroke-width="1.6"/><line x1="1298.8" y1="239.89" x2="1305.3" y2="239.89" stroke="#000" stroke-width="1.6"/><line x1="1298.8" y1="272.22" x2="1305.3" y2="272.22" stroke="#000" stroke-width="1.6"/><line x1="1298.8" y1="304.55" x2="1305.3" y2="304.55" stroke="#000" stroke-width="1.6"/><line x1="1298.8" y1="336.88" x2="1305.3" y2="336.88" stroke="#000" stroke-width="1.6"/><line x1="1298.8" y1="369.22" x2="1305.3" y2="369.22" stroke="#000" stroke-width="1.6"/><line x1="1298.8" y1="401.55" x2="1305.3" y2="401.55" stroke="#000" stroke-width="1.6"/><line x1="1298.8" y1="433.88" x2="1305.3" y2="433.88" stroke="#000" stroke-width="1.6"/><line x1="1298.8" y1="466.21" x2="1305.3" y2="466.21" stroke="#000" stroke-width="1.6"/><line x1="1298.8" y1="498.54" x2="1305.3" y2="498.54" stroke="#000" stroke-width="1.6"/><line x1="1298.8" y1="530.87" x2="1305.3" y2="530.87" stroke="#000" stroke-width="1.6"/><line x1="1298.8" y1="563.20" x2="1305.3" y2="563.20" stroke="#000" stroke-width="1.6"/>
</g>
<g>
<text x="102.8" y="29.7" text-anchor="start" textLength="255.5" lengthAdjust="spacingAndGlyphs">NSF NCAR 3.75-km MPAS-A</text>
<text x="102.8" y="51.9" text-anchor="start" textLength="358.0" lengthAdjust="spacingAndGlyphs">12-hr Accumulated Precipitation (mm)</text>
<text x="1261.0" y="29.7" text-anchor="end" textLength="254.5" lengthAdjust="spacingAndGlyphs">Init: 2025-10-03 00:00 UTC</text>
<text x="1261.0" y="51.9" text-anchor="end" textLength="270.3" lengthAdjust="spacingAndGlyphs">Valid: 2025-10-05 03:00 UTC</text>
<text x="92.2" y="142.2" text-anchor="end" textLength="46.8" lengthAdjust="spacingAndGlyphs" class="tk">19°N</text>
<text x="92.2" y="214.5" text-anchor="end" textLength="77.6" lengthAdjust="spacingAndGlyphs" class="tk">18.75°N</text>
<text x="92.2" y="286.9" text-anchor="end" textLength="65.8" lengthAdjust="spacingAndGlyphs" class="tk">18.5°N</text>
<text x="92.2" y="359.2" text-anchor="end" textLength="77.6" lengthAdjust="spacingAndGlyphs" class="tk">18.25°N</text>
<text x="92.2" y="431.6" text-anchor="end" textLength="46.8" lengthAdjust="spacingAndGlyphs" class="tk">18°N</text>
<text x="92.2" y="503.9" text-anchor="end" textLength="77.6" lengthAdjust="spacingAndGlyphs" class="tk">17.75°N</text>
<text x="92.2" y="576.3" text-anchor="end" textLength="65.8" lengthAdjust="spacingAndGlyphs" class="tk">17.5°N</text>
<text x="174.6" y="668.9" text-anchor="middle" textLength="69.0" lengthAdjust="spacingAndGlyphs" class="tk">67.5°W</text>
<text x="319.2" y="668.9" text-anchor="middle" textLength="50.7" lengthAdjust="spacingAndGlyphs" class="tk">67°W</text>
<text x="463.9" y="668.9" text-anchor="middle" textLength="69.0" lengthAdjust="spacingAndGlyphs" class="tk">66.5°W</text>
<text x="608.6" y="668.9" text-anchor="middle" textLength="50.7" lengthAdjust="spacingAndGlyphs" class="tk">66°W</text>
<text x="753.2" y="668.9" text-anchor="middle" textLength="69.0" lengthAdjust="spacingAndGlyphs" class="tk">65.5°W</text>
<text x="897.9" y="668.9" text-anchor="middle" textLength="50.7" lengthAdjust="spacingAndGlyphs" class="tk">65°W</text>
<text x="1042.5" y="668.9" text-anchor="middle" textLength="69.0" lengthAdjust="spacingAndGlyphs" class="tk">64.5°W</text>
<text x="1187.2" y="668.9" text-anchor="middle" textLength="50.7" lengthAdjust="spacingAndGlyphs" class="tk">64°W</text>
<text x="1313.3" y="151.2" text-anchor="start" textLength="35.0" lengthAdjust="spacingAndGlyphs" class="tk">125</text>
<text x="1313.3" y="183.5" text-anchor="start" textLength="35.0" lengthAdjust="spacingAndGlyphs" class="tk">100</text>
<text x="1313.3" y="215.9" text-anchor="start" textLength="22.8" lengthAdjust="spacingAndGlyphs" class="tk">75</text>
<text x="1313.3" y="248.2" text-anchor="start" textLength="22.8" lengthAdjust="spacingAndGlyphs" class="tk">60</text>
<text x="1313.3" y="280.5" text-anchor="start" textLength="22.8" lengthAdjust="spacingAndGlyphs" class="tk">50</text>
<text x="1313.3" y="312.9" text-anchor="start" textLength="22.8" lengthAdjust="spacingAndGlyphs" class="tk">40</text>
<text x="1313.3" y="345.2" text-anchor="start" textLength="22.8" lengthAdjust="spacingAndGlyphs" class="tk">30</text>
<text x="1313.3" y="377.5" text-anchor="start" textLength="22.8" lengthAdjust="spacingAndGlyphs" class="tk">25</text>
<text x="1313.3" y="409.8" text-anchor="start" textLength="22.8" lengthAdjust="spacingAndGlyphs" class="tk">20</text>
<text x="1313.3" y="442.2" text-anchor="start" textLength="22.8" lengthAdjust="spacingAndGlyphs" class="tk">15</text>
<text x="1313.3" y="474.5" text-anchor="start" textLength="22.8" lengthAdjust="spacingAndGlyphs" class="tk">10</text>
<text x="1313.3" y="506.8" text-anchor="start" textLength="11.0" lengthAdjust="spacingAndGlyphs" class="tk">5</text>
<text x="1313.3" y="539.2" text-anchor="start" textLength="11.0" lengthAdjust="spacingAndGlyphs" class="tk">2</text>
<text x="1313.3" y="571.5" text-anchor="start" textLength="11.0" lengthAdjust="spacingAndGlyphs" class="tk">1</text>
<text transform="translate(1372.4,356.8) rotate(-90)" text-anchor="middle" textLength="49.5" lengthAdjust="spacingAndGlyphs" class="tk">[mm]</text>
</g>
</svg>
</body></html>
